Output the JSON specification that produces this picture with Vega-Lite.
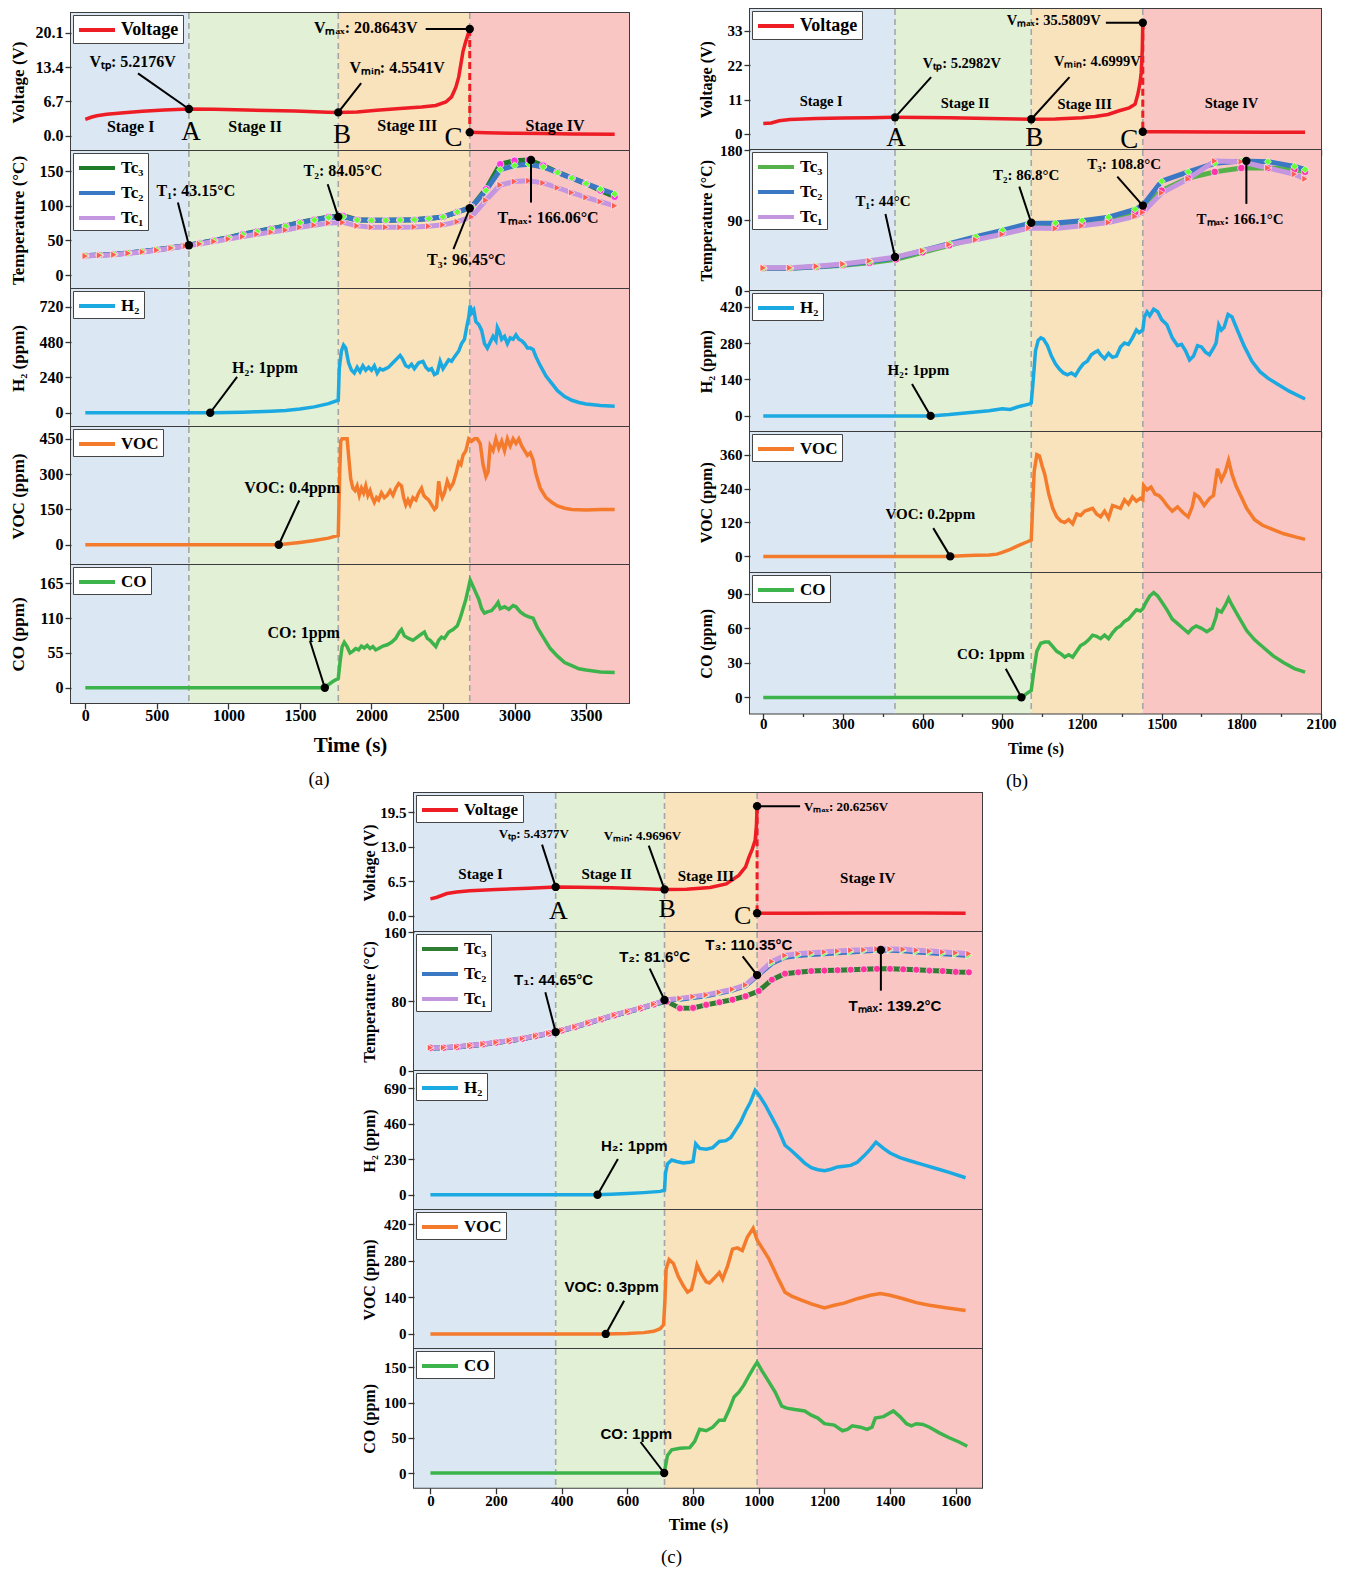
{
"$schema": "https://vega.github.io/schema/vega-lite/v6.json",
"background": "white",
"padding": {"left": 7, "top": 7, "right": 5, "bottom": 5},
"config": {
 "view": {"stroke": "#3c3c3c", "strokeWidth": 2},
 "axis": {"domain": false, "grid": false, "labelOverlap": false, "labelFlush": false, "tickColor": "#333333", "tickWidth": 1.3, "labelColor": "black", "titleColor": "black", "labelFont": "Liberation Serif", "titleFont": "Liberation Serif", "labelFontWeight": "bold", "titleFontWeight": "bold", "labelPadding": 2},
 "axisY": {"labelOverlap": false},
 "axisX": {"labelOverlap": false},
 "legend": {"labelFont": "Liberation Serif", "labelFontWeight": "bold", "labelColor": "black", "orient": "top-left", "offset": 2, "fillColor": "white", "strokeColor": "#444444", "padding": 4, "symbolStrokeWidth": 4, "labelFontSize": 17, "symbolSize": 324, "symbolType": "M-1,0H3", "labelOffset": 22, "rowPadding": 6},
 "title": {"font": "Liberation Serif", "fontWeight": "normal", "color": "black", "fontSize": 19, "orient": "bottom", "anchor": "middle", "offset": 14}
},
"datasets": {
 "stA": [{"s":"I","t0":-100,"t1":724},{"s":"II","t0":724,"t1":1768},{"s":"III","t0":1768,"t1":2687},{"s":"IV","t0":2687,"t1":3800}],
 "stB": [{"s":"I","t0":-50,"t1":496},{"s":"II","t0":496,"t1":1009},{"s":"III","t0":1009,"t1":1429},{"s":"IV","t0":1429,"t1":2100}],
 "stC": [{"s":"I","t0":-50,"t1":381.5},{"s":"II","t0":381.5,"t1":713},{"s":"III","t0":713,"t1":995},{"s":"IV","t0":995,"t1":1680}],
 "bdA": [{"t":724},{"t":1768},{"t":2687}],
 "bdB": [{"t":496},{"t":1009},{"t":1429}],
 "bdC": [{"t":381.5},{"t":713},{"t":995}],
 "vA": [{"t":0,"v":3.2,"g":1},{"t":40,"v":3.6,"g":1},{"t":80,"v":3.9,"g":1},{"t":150,"v":4.2,"g":1},{"t":270,"v":4.5,"g":1},{"t":400,"v":4.8,"g":1},{"t":550,"v":5.0,"g":1},{"t":724,"v":5.22,"g":1},{"t":900,"v":5.15,"g":1},{"t":1124,"v":5.0,"g":1},{"t":1466,"v":4.85,"g":1},{"t":1694,"v":4.6,"g":1},{"t":1768,"v":4.55,"g":1},{"t":1900,"v":4.65,"g":1},{"t":2036,"v":4.95,"g":1},{"t":2200,"v":5.3,"g":1},{"t":2350,"v":5.6,"g":1},{"t":2450,"v":5.9,"g":1},{"t":2520,"v":6.6,"g":1},{"t":2560,"v":7.6,"g":1},{"t":2590,"v":9.5,"g":1},{"t":2610,"v":11.5,"g":1},{"t":2625,"v":14,"g":1},{"t":2640,"v":16.5,"g":1},{"t":2660,"v":18.5,"g":1},{"t":2687,"v":20.86,"g":1},{"t":2687,"v":0.65,"g":2},{"t":2800,"v":0.55,"g":2},{"t":3000,"v":0.45,"g":2},{"t":3200,"v":0.4,"g":2},{"t":3400,"v":0.35,"g":2},{"t":3700,"v":0.3,"g":2}],
 "vB": [{"t":0,"v":3.3,"g":1},{"t":30,"v":3.5,"g":1},{"t":60,"v":4.2,"g":1},{"t":100,"v":4.6,"g":1},{"t":200,"v":4.9,"g":1},{"t":300,"v":5.05,"g":1},{"t":400,"v":5.2,"g":1},{"t":496,"v":5.3,"g":1},{"t":600,"v":5.25,"g":1},{"t":700,"v":5.15,"g":1},{"t":800,"v":5.0,"g":1},{"t":900,"v":4.85,"g":1},{"t":1009,"v":4.7,"g":1},{"t":1100,"v":4.8,"g":1},{"t":1200,"v":5.2,"g":1},{"t":1250,"v":5.6,"g":1},{"t":1298,"v":6.2,"g":1},{"t":1340,"v":7.4,"g":1},{"t":1378,"v":8.35,"g":1},{"t":1400,"v":9.5,"g":1},{"t":1410,"v":12.6,"g":1},{"t":1418,"v":16,"g":1},{"t":1423,"v":19.6,"g":1},{"t":1427,"v":27,"g":1},{"t":1429,"v":35.58,"g":1},{"t":1429,"v":0.7,"g":2},{"t":1500,"v":0.65,"g":2},{"t":1700,"v":0.6,"g":2},{"t":1900,"v":0.55,"g":2},{"t":2040,"v":0.55,"g":2}],
 "vC": [{"t":0,"v":3.2,"g":1},{"t":20,"v":3.5,"g":1},{"t":50,"v":4.2,"g":1},{"t":80,"v":4.5,"g":1},{"t":120,"v":4.7,"g":1},{"t":200,"v":4.95,"g":1},{"t":300,"v":5.2,"g":1},{"t":381.5,"v":5.44,"g":1},{"t":450,"v":5.4,"g":1},{"t":550,"v":5.3,"g":1},{"t":650,"v":5.1,"g":1},{"t":713,"v":4.97,"g":1},{"t":780,"v":5.0,"g":1},{"t":852,"v":5.35,"g":1},{"t":901,"v":6.0,"g":1},{"t":939,"v":7.6,"g":1},{"t":960,"v":9.2,"g":1},{"t":970,"v":11,"g":1},{"t":980,"v":12.5,"g":1},{"t":989,"v":14.2,"g":1},{"t":993,"v":17,"g":1},{"t":995,"v":20.63,"g":1},{"t":995,"v":0.5,"g":2},{"t":1100,"v":0.5,"g":2},{"t":1300,"v":0.55,"g":2},{"t":1500,"v":0.55,"g":2},{"t":1630,"v":0.5,"g":2}],
 "tA": [{"t":0,"Tc₃":28,"Tc₂":28,"Tc₁":27.5},{"t":100,"Tc₃":29,"Tc₂":29,"Tc₁":28.5},{"t":200,"Tc₃":30,"Tc₂":30,"Tc₁":29.5},{"t":300,"Tc₃":32,"Tc₂":32,"Tc₁":31.5},{"t":400,"Tc₃":34,"Tc₂":34,"Tc₁":33.5},{"t":500,"Tc₃":36.5,"Tc₂":36.5,"Tc₁":36},{"t":600,"Tc₃":39.5,"Tc₂":39.5,"Tc₁":39},{"t":700,"Tc₃":42.5,"Tc₂":42.5,"Tc₁":42},{"t":800,"Tc₃":46,"Tc₂":46,"Tc₁":45},{"t":900,"Tc₃":50,"Tc₂":50,"Tc₁":48.5},{"t":1000,"Tc₃":54,"Tc₂":54,"Tc₁":52},{"t":1100,"Tc₃":59,"Tc₂":58.5,"Tc₁":55.5},{"t":1200,"Tc₃":63,"Tc₂":62.5,"Tc₁":59},{"t":1300,"Tc₃":67,"Tc₂":66.5,"Tc₁":62},{"t":1400,"Tc₃":71,"Tc₂":70.5,"Tc₁":65},{"t":1500,"Tc₃":76,"Tc₂":75.5,"Tc₁":69},{"t":1600,"Tc₃":80,"Tc₂":79.5,"Tc₁":72},{"t":1700,"Tc₃":84,"Tc₂":83,"Tc₁":75},{"t":1800,"Tc₃":85.5,"Tc₂":84,"Tc₁":76},{"t":1900,"Tc₃":80,"Tc₂":79.5,"Tc₁":71},{"t":2000,"Tc₃":79,"Tc₂":79,"Tc₁":69},{"t":2100,"Tc₃":79,"Tc₂":79,"Tc₁":69},{"t":2200,"Tc₃":79.5,"Tc₂":79.5,"Tc₁":69},{"t":2300,"Tc₃":80,"Tc₂":80,"Tc₁":69.5},{"t":2400,"Tc₃":81.5,"Tc₂":81.5,"Tc₁":70.5},{"t":2500,"Tc₃":84,"Tc₂":84,"Tc₁":72.5},{"t":2600,"Tc₃":91,"Tc₂":91,"Tc₁":77},{"t":2700,"Tc₃":98,"Tc₂":98,"Tc₁":84},{"t":2800,"Tc₃":124,"Tc₂":122,"Tc₁":108},{"t":2900,"Tc₃":160,"Tc₂":152,"Tc₁":130},{"t":3000,"Tc₃":165,"Tc₂":158,"Tc₁":135},{"t":3100,"Tc₃":166,"Tc₂":160,"Tc₁":136},{"t":3200,"Tc₃":158,"Tc₂":156,"Tc₁":133},{"t":3300,"Tc₃":148.5,"Tc₂":148,"Tc₁":126},{"t":3400,"Tc₃":140,"Tc₂":140,"Tc₁":119},{"t":3500,"Tc₃":132,"Tc₂":132,"Tc₁":112},{"t":3600,"Tc₃":122,"Tc₂":124,"Tc₁":106},{"t":3700,"Tc₃":113,"Tc₂":117,"Tc₁":100}],
 "tB": [{"t":0,"Tc₃":28.5,"Tc₂":28.5,"Tc₁":29},{"t":100,"Tc₃":28.5,"Tc₂":28.5,"Tc₁":29},{"t":200,"Tc₃":30,"Tc₂":30.5,"Tc₁":31},{"t":300,"Tc₃":32.5,"Tc₂":33,"Tc₁":34},{"t":400,"Tc₃":35.5,"Tc₂":37,"Tc₁":38},{"t":500,"Tc₃":40,"Tc₂":42,"Tc₁":43},{"t":600,"Tc₃":49,"Tc₂":51,"Tc₁":51},{"t":700,"Tc₃":58,"Tc₂":60,"Tc₁":59},{"t":800,"Tc₃":67,"Tc₂":69,"Tc₁":65},{"t":900,"Tc₃":75,"Tc₂":77,"Tc₁":72},{"t":1000,"Tc₃":84,"Tc₂":86,"Tc₁":80},{"t":1100,"Tc₃":84,"Tc₂":86.5,"Tc₁":79.5},{"t":1200,"Tc₃":87,"Tc₂":89.5,"Tc₁":83},{"t":1300,"Tc₃":91,"Tc₂":94,"Tc₁":87},{"t":1400,"Tc₃":100,"Tc₂":104,"Tc₁":95},{"t":1429,"Tc₃":104,"Tc₂":108.8,"Tc₁":100},{"t":1500,"Tc₃":128,"Tc₂":140,"Tc₁":125},{"t":1600,"Tc₃":144,"Tc₂":152,"Tc₁":143},{"t":1700,"Tc₃":152,"Tc₂":163,"Tc₁":166},{"t":1800,"Tc₃":157,"Tc₂":166,"Tc₁":165},{"t":1900,"Tc₃":157,"Tc₂":165,"Tc₁":157},{"t":2000,"Tc₃":155,"Tc₂":159,"Tc₁":149},{"t":2040,"Tc₃":152,"Tc₂":155,"Tc₁":143}],
 "tC": [{"t":0,"Tc₃":26.4,"Tc₂":26.4,"Tc₁":26.6},{"t":40,"Tc₃":26.6,"Tc₂":26.6,"Tc₁":26.8},{"t":80,"Tc₃":27.5,"Tc₂":27.5,"Tc₁":27.7},{"t":120,"Tc₃":29,"Tc₂":29,"Tc₁":29.2},{"t":160,"Tc₃":30.5,"Tc₂":30.5,"Tc₁":30.8},{"t":200,"Tc₃":32.5,"Tc₂":32.5,"Tc₁":32.8},{"t":240,"Tc₃":34.5,"Tc₂":34.5,"Tc₁":34.8},{"t":280,"Tc₃":37,"Tc₂":37,"Tc₁":37.3},{"t":320,"Tc₃":40,"Tc₂":40,"Tc₁":40.3},{"t":360,"Tc₃":43,"Tc₂":43,"Tc₁":43.3},{"t":400,"Tc₃":46.5,"Tc₂":46.5,"Tc₁":46.8},{"t":440,"Tc₃":50.5,"Tc₂":50.5,"Tc₁":50.8},{"t":480,"Tc₃":55,"Tc₂":55,"Tc₁":55.3},{"t":520,"Tc₃":59.5,"Tc₂":59.5,"Tc₁":59.8},{"t":560,"Tc₃":64,"Tc₂":64,"Tc₁":64.3},{"t":600,"Tc₃":68,"Tc₂":68,"Tc₁":68.3},{"t":640,"Tc₃":72,"Tc₂":72,"Tc₁":72.3},{"t":680,"Tc₃":76.5,"Tc₂":76.5,"Tc₁":76.8},{"t":720,"Tc₃":80,"Tc₂":81.5,"Tc₁":82},{"t":760,"Tc₃":72,"Tc₂":82.5,"Tc₁":83.5},{"t":800,"Tc₃":72.5,"Tc₂":84.5,"Tc₁":85.5},{"t":840,"Tc₃":76,"Tc₂":86.5,"Tc₁":87.5},{"t":880,"Tc₃":79,"Tc₂":89.5,"Tc₁":90.5},{"t":920,"Tc₃":82,"Tc₂":93,"Tc₁":94},{"t":960,"Tc₃":86,"Tc₂":98,"Tc₁":99},{"t":1000,"Tc₃":92,"Tc₂":111,"Tc₁":112},{"t":1040,"Tc₃":105,"Tc₂":124,"Tc₁":126},{"t":1080,"Tc₃":112,"Tc₂":131,"Tc₁":133},{"t":1120,"Tc₃":113.5,"Tc₂":133,"Tc₁":135},{"t":1160,"Tc₃":115,"Tc₂":134,"Tc₁":136},{"t":1200,"Tc₃":115.5,"Tc₂":135,"Tc₁":137},{"t":1240,"Tc₃":116,"Tc₂":136,"Tc₁":138},{"t":1280,"Tc₃":116.5,"Tc₂":137,"Tc₁":139},{"t":1320,"Tc₃":117,"Tc₂":138,"Tc₁":139.5},{"t":1360,"Tc₃":117.5,"Tc₂":139,"Tc₁":140.5},{"t":1400,"Tc₃":117.5,"Tc₂":139,"Tc₁":140.5},{"t":1440,"Tc₃":117,"Tc₂":138.5,"Tc₁":140},{"t":1480,"Tc₃":116.5,"Tc₂":137,"Tc₁":139},{"t":1520,"Tc₃":115.5,"Tc₂":136,"Tc₁":138},{"t":1560,"Tc₃":115,"Tc₂":135,"Tc₁":137},{"t":1600,"Tc₃":114,"Tc₂":134,"Tc₁":136},{"t":1640,"Tc₃":113.5,"Tc₂":133,"Tc₁":135}],
 "hA": [{"t":0,"v":0},{"t":300,"v":0},{"t":600,"v":0},{"t":900,"v":0},{"t":1000,"v":2},{"t":1100,"v":4},{"t":1200,"v":7},{"t":1300,"v":11},{"t":1400,"v":16},{"t":1500,"v":25},{"t":1600,"v":40},{"t":1700,"v":62},{"t":1768,"v":85},{"t":1775,"v":300},{"t":1790,"v":420},{"t":1805,"v":460},{"t":1820,"v":440},{"t":1840,"v":340},{"t":1860,"v":290},{"t":1880,"v":270},{"t":1900,"v":310},{"t":1920,"v":280},{"t":1940,"v":320},{"t":1960,"v":290},{"t":1980,"v":310},{"t":2000,"v":290},{"t":2020,"v":320},{"t":2040,"v":270},{"t":2060,"v":300},{"t":2080,"v":290},{"t":2100,"v":300},{"t":2120,"v":310},{"t":2150,"v":340},{"t":2180,"v":370},{"t":2200,"v":390},{"t":2215,"v":370},{"t":2240,"v":320},{"t":2260,"v":310},{"t":2280,"v":330},{"t":2300,"v":300},{"t":2330,"v":340},{"t":2360,"v":350},{"t":2380,"v":310},{"t":2400,"v":290},{"t":2420,"v":300},{"t":2440,"v":260},{"t":2460,"v":270},{"t":2480,"v":350},{"t":2500,"v":300},{"t":2520,"v":330},{"t":2540,"v":360},{"t":2560,"v":350},{"t":2580,"v":380},{"t":2610,"v":420},{"t":2630,"v":470},{"t":2650,"v":500},{"t":2665,"v":580},{"t":2680,"v":650},{"t":2690,"v":730},{"t":2700,"v":680},{"t":2715,"v":700},{"t":2730,"v":620},{"t":2750,"v":600},{"t":2770,"v":560},{"t":2790,"v":470},{"t":2810,"v":440},{"t":2830,"v":480},{"t":2850,"v":520},{"t":2870,"v":490},{"t":2880,"v":580},{"t":2895,"v":550},{"t":2910,"v":500},{"t":2930,"v":520},{"t":2950,"v":470},{"t":2970,"v":510},{"t":2990,"v":500},{"t":3010,"v":530},{"t":3030,"v":500},{"t":3050,"v":490},{"t":3070,"v":470},{"t":3090,"v":440},{"t":3110,"v":440},{"t":3130,"v":430},{"t":3150,"v":380},{"t":3180,"v":320},{"t":3220,"v":250},{"t":3260,"v":200},{"t":3300,"v":150},{"t":3350,"v":110},{"t":3400,"v":85},{"t":3450,"v":70},{"t":3500,"v":60},{"t":3600,"v":50},{"t":3700,"v":45}],
 "oA": [{"t":0,"v":0},{"t":600,"v":0},{"t":1000,"v":0},{"t":1350,"v":0},{"t":1400,"v":3},{"t":1500,"v":10},{"t":1600,"v":18},{"t":1700,"v":28},{"t":1768,"v":40},{"t":1772,"v":150},{"t":1778,"v":300},{"t":1785,"v":440},{"t":1795,"v":450},{"t":1830,"v":450},{"t":1840,"v":380},{"t":1855,"v":280},{"t":1870,"v":240},{"t":1885,"v":230},{"t":1900,"v":250},{"t":1915,"v":210},{"t":1930,"v":240},{"t":1945,"v":220},{"t":1960,"v":250},{"t":1975,"v":210},{"t":1990,"v":230},{"t":2005,"v":200},{"t":2020,"v":180},{"t":2035,"v":200},{"t":2050,"v":190},{"t":2070,"v":220},{"t":2090,"v":200},{"t":2110,"v":210},{"t":2130,"v":230},{"t":2150,"v":210},{"t":2170,"v":240},{"t":2190,"v":260},{"t":2210,"v":250},{"t":2225,"v":200},{"t":2240,"v":170},{"t":2255,"v":190},{"t":2270,"v":170},{"t":2290,"v":200},{"t":2310,"v":190},{"t":2330,"v":220},{"t":2350,"v":240},{"t":2365,"v":210},{"t":2380,"v":200},{"t":2400,"v":190},{"t":2420,"v":170},{"t":2440,"v":150},{"t":2455,"v":160},{"t":2470,"v":270},{"t":2480,"v":230},{"t":2495,"v":200},{"t":2510,"v":220},{"t":2530,"v":270},{"t":2550,"v":240},{"t":2570,"v":260},{"t":2590,"v":300},{"t":2610,"v":350},{"t":2625,"v":340},{"t":2640,"v":380},{"t":2660,"v":400},{"t":2680,"v":450},{"t":2700,"v":440},{"t":2720,"v":450},{"t":2740,"v":450},{"t":2760,"v":430},{"t":2780,"v":340},{"t":2800,"v":290},{"t":2815,"v":310},{"t":2830,"v":420},{"t":2850,"v":400},{"t":2870,"v":450},{"t":2890,"v":410},{"t":2910,"v":440},{"t":2930,"v":400},{"t":2950,"v":450},{"t":2970,"v":420},{"t":2990,"v":450},{"t":3010,"v":430},{"t":3030,"v":450},{"t":3050,"v":420},{"t":3070,"v":400},{"t":3090,"v":380},{"t":3110,"v":390},{"t":3130,"v":360},{"t":3150,"v":300},{"t":3180,"v":240},{"t":3220,"v":200},{"t":3260,"v":180},{"t":3300,"v":165},{"t":3350,"v":155},{"t":3400,"v":150},{"t":3500,"v":148},{"t":3600,"v":150},{"t":3700,"v":150}],
 "cA": [{"t":0,"v":0},{"t":800,"v":0},{"t":1600,"v":0},{"t":1680,"v":0},{"t":1700,"v":5},{"t":1730,"v":10},{"t":1768,"v":15},{"t":1780,"v":40},{"t":1795,"v":65},{"t":1810,"v":72},{"t":1830,"v":65},{"t":1850,"v":55},{"t":1870,"v":58},{"t":1890,"v":62},{"t":1910,"v":60},{"t":1930,"v":66},{"t":1950,"v":63},{"t":1970,"v":67},{"t":1990,"v":62},{"t":2010,"v":65},{"t":2030,"v":60},{"t":2050,"v":62},{"t":2080,"v":66},{"t":2110,"v":68},{"t":2140,"v":72},{"t":2170,"v":78},{"t":2195,"v":88},{"t":2210,"v":92},{"t":2230,"v":82},{"t":2260,"v":78},{"t":2290,"v":75},{"t":2320,"v":80},{"t":2350,"v":85},{"t":2370,"v":88},{"t":2390,"v":78},{"t":2410,"v":75},{"t":2430,"v":70},{"t":2450,"v":65},{"t":2470,"v":75},{"t":2490,"v":80},{"t":2510,"v":78},{"t":2540,"v":88},{"t":2570,"v":92},{"t":2600,"v":98},{"t":2620,"v":110},{"t":2640,"v":125},{"t":2660,"v":140},{"t":2680,"v":160},{"t":2690,"v":170},{"t":2710,"v":160},{"t":2730,"v":150},{"t":2750,"v":140},{"t":2770,"v":125},{"t":2790,"v":118},{"t":2810,"v":120},{"t":2840,"v":122},{"t":2870,"v":130},{"t":2885,"v":135},{"t":2900,"v":125},{"t":2930,"v":128},{"t":2960,"v":124},{"t":2990,"v":130},{"t":3010,"v":128},{"t":3040,"v":120},{"t":3070,"v":115},{"t":3100,"v":112},{"t":3130,"v":110},{"t":3160,"v":95},{"t":3200,"v":80},{"t":3250,"v":62},{"t":3300,"v":50},{"t":3350,"v":40},{"t":3400,"v":35},{"t":3450,"v":30},{"t":3500,"v":28},{"t":3600,"v":25},{"t":3700,"v":24}],
 "hB": [{"t":0,"v":0},{"t":300,"v":0},{"t":630,"v":0},{"t":700,"v":5},{"t":750,"v":10},{"t":800,"v":15},{"t":850,"v":20},{"t":900,"v":27},{"t":930,"v":25},{"t":960,"v":35},{"t":1000,"v":45},{"t":1009,"v":50},{"t":1015,"v":120},{"t":1025,"v":250},{"t":1035,"v":290},{"t":1045,"v":300},{"t":1055,"v":295},{"t":1070,"v":270},{"t":1085,"v":230},{"t":1100,"v":200},{"t":1115,"v":180},{"t":1130,"v":165},{"t":1145,"v":158},{"t":1160,"v":165},{"t":1175,"v":155},{"t":1190,"v":180},{"t":1205,"v":200},{"t":1220,"v":210},{"t":1235,"v":235},{"t":1250,"v":245},{"t":1260,"v":250},{"t":1270,"v":235},{"t":1285,"v":220},{"t":1300,"v":240},{"t":1315,"v":225},{"t":1330,"v":230},{"t":1345,"v":265},{"t":1360,"v":280},{"t":1375,"v":275},{"t":1390,"v":300},{"t":1405,"v":330},{"t":1415,"v":320},{"t":1429,"v":330},{"t":1435,"v":380},{"t":1445,"v":400},{"t":1455,"v":385},{"t":1470,"v":410},{"t":1485,"v":400},{"t":1500,"v":370},{"t":1520,"v":350},{"t":1540,"v":300},{"t":1560,"v":270},{"t":1575,"v":275},{"t":1590,"v":250},{"t":1605,"v":215},{"t":1620,"v":230},{"t":1635,"v":270},{"t":1650,"v":265},{"t":1665,"v":245},{"t":1680,"v":235},{"t":1695,"v":260},{"t":1705,"v":280},{"t":1715,"v":350},{"t":1725,"v":330},{"t":1735,"v":340},{"t":1750,"v":390},{"t":1765,"v":380},{"t":1785,"v":330},{"t":1810,"v":270},{"t":1840,"v":210},{"t":1870,"v":170},{"t":1900,"v":145},{"t":1940,"v":120},{"t":1980,"v":95},{"t":2040,"v":65}],
 "oB": [{"t":0,"v":0},{"t":700,"v":0},{"t":750,"v":2},{"t":800,"v":4},{"t":850,"v":5},{"t":880,"v":8},{"t":900,"v":14},{"t":930,"v":25},{"t":960,"v":38},{"t":990,"v":50},{"t":1009,"v":58},{"t":1013,"v":150},{"t":1020,"v":300},{"t":1030,"v":360},{"t":1040,"v":355},{"t":1050,"v":320},{"t":1060,"v":290},{"t":1075,"v":220},{"t":1090,"v":170},{"t":1105,"v":140},{"t":1120,"v":125},{"t":1135,"v":120},{"t":1150,"v":130},{"t":1165,"v":115},{"t":1180,"v":150},{"t":1195,"v":145},{"t":1210,"v":160},{"t":1225,"v":165},{"t":1240,"v":170},{"t":1255,"v":150},{"t":1270,"v":140},{"t":1285,"v":160},{"t":1300,"v":135},{"t":1315,"v":180},{"t":1330,"v":175},{"t":1345,"v":170},{"t":1360,"v":200},{"t":1375,"v":185},{"t":1390,"v":210},{"t":1405,"v":195},{"t":1420,"v":205},{"t":1429,"v":200},{"t":1432,"v":250},{"t":1445,"v":235},{"t":1460,"v":245},{"t":1475,"v":220},{"t":1490,"v":215},{"t":1505,"v":200},{"t":1520,"v":180},{"t":1540,"v":160},{"t":1560,"v":175},{"t":1580,"v":155},{"t":1600,"v":140},{"t":1615,"v":175},{"t":1625,"v":220},{"t":1640,"v":210},{"t":1660,"v":180},{"t":1680,"v":205},{"t":1695,"v":215},{"t":1710,"v":310},{"t":1725,"v":270},{"t":1740,"v":300},{"t":1752,"v":340},{"t":1765,"v":290},{"t":1780,"v":250},{"t":1800,"v":210},{"t":1820,"v":170},{"t":1850,"v":130},{"t":1880,"v":110},{"t":1920,"v":95},{"t":1960,"v":80},{"t":2000,"v":70},{"t":2040,"v":60}],
 "cB": [{"t":0,"v":0},{"t":500,"v":0},{"t":975,"v":0},{"t":990,"v":3},{"t":1009,"v":6},{"t":1020,"v":25},{"t":1030,"v":40},{"t":1045,"v":47},{"t":1060,"v":48},{"t":1075,"v":48},{"t":1090,"v":44},{"t":1105,"v":40},{"t":1120,"v":38},{"t":1135,"v":35},{"t":1150,"v":37},{"t":1165,"v":35},{"t":1180,"v":40},{"t":1195,"v":45},{"t":1210,"v":47},{"t":1225,"v":50},{"t":1240,"v":54},{"t":1255,"v":53},{"t":1270,"v":51},{"t":1285,"v":54},{"t":1300,"v":51},{"t":1315,"v":56},{"t":1330,"v":60},{"t":1345,"v":62},{"t":1360,"v":66},{"t":1375,"v":68},{"t":1390,"v":72},{"t":1405,"v":76},{"t":1420,"v":75},{"t":1429,"v":77},{"t":1440,"v":82},{"t":1455,"v":88},{"t":1470,"v":91},{"t":1485,"v":88},{"t":1500,"v":83},{"t":1520,"v":76},{"t":1540,"v":68},{"t":1560,"v":64},{"t":1580,"v":60},{"t":1600,"v":56},{"t":1615,"v":60},{"t":1630,"v":62},{"t":1650,"v":60},{"t":1670,"v":57},{"t":1690,"v":60},{"t":1705,"v":70},{"t":1710,"v":76},{"t":1725,"v":74},{"t":1740,"v":80},{"t":1752,"v":86},{"t":1765,"v":80},{"t":1790,"v":70},{"t":1820,"v":58},{"t":1850,"v":50},{"t":1880,"v":44},{"t":1920,"v":36},{"t":1960,"v":30},{"t":2000,"v":25},{"t":2040,"v":22}],
 "hC": [{"t":0,"v":0},{"t":200,"v":0},{"t":381,"v":0},{"t":500,"v":0},{"t":550,"v":3},{"t":600,"v":8},{"t":650,"v":14},{"t":700,"v":22},{"t":713,"v":30},{"t":716,"v":140},{"t":722,"v":200},{"t":735,"v":225},{"t":750,"v":215},{"t":770,"v":205},{"t":790,"v":210},{"t":800,"v":215},{"t":808,"v":330},{"t":820,"v":300},{"t":840,"v":295},{"t":860,"v":305},{"t":880,"v":345},{"t":900,"v":350},{"t":915,"v":370},{"t":930,"v":420},{"t":945,"v":470},{"t":960,"v":540},{"t":975,"v":600},{"t":989,"v":675},{"t":995,"v":660},{"t":1005,"v":630},{"t":1020,"v":580},{"t":1040,"v":500},{"t":1060,"v":420},{"t":1080,"v":320},{"t":1100,"v":285},{"t":1120,"v":245},{"t":1140,"v":205},{"t":1160,"v":175},{"t":1180,"v":162},{"t":1201,"v":156},{"t":1220,"v":165},{"t":1240,"v":180},{"t":1260,"v":185},{"t":1280,"v":190},{"t":1300,"v":210},{"t":1320,"v":250},{"t":1340,"v":295},{"t":1357,"v":340},{"t":1380,"v":300},{"t":1400,"v":270},{"t":1430,"v":240},{"t":1460,"v":220},{"t":1500,"v":195},{"t":1540,"v":170},{"t":1580,"v":145},{"t":1630,"v":110}],
 "oC": [{"t":0,"v":0},{"t":400,"v":0},{"t":534,"v":0},{"t":600,"v":2},{"t":650,"v":5},{"t":680,"v":10},{"t":700,"v":20},{"t":710,"v":35},{"t":714,"v":120},{"t":718,"v":250},{"t":727,"v":285},{"t":740,"v":270},{"t":755,"v":220},{"t":770,"v":185},{"t":783,"v":160},{"t":795,"v":170},{"t":805,"v":220},{"t":812,"v":265},{"t":825,"v":230},{"t":840,"v":200},{"t":850,"v":195},{"t":865,"v":215},{"t":880,"v":235},{"t":890,"v":210},{"t":905,"v":260},{"t":920,"v":325},{"t":935,"v":330},{"t":950,"v":320},{"t":965,"v":370},{"t":983,"v":405},{"t":995,"v":360},{"t":1010,"v":330},{"t":1030,"v":290},{"t":1045,"v":250},{"t":1060,"v":210},{"t":1080,"v":160},{"t":1100,"v":145},{"t":1130,"v":130},{"t":1160,"v":115},{"t":1200,"v":100},{"t":1230,"v":110},{"t":1260,"v":118},{"t":1300,"v":135},{"t":1340,"v":148},{"t":1370,"v":155},{"t":1400,"v":148},{"t":1440,"v":135},{"t":1480,"v":120},{"t":1520,"v":110},{"t":1570,"v":100},{"t":1630,"v":90}],
 "cC": [{"t":0,"v":0},{"t":300,"v":0},{"t":600,"v":0},{"t":712,"v":0},{"t":716,"v":10},{"t":722,"v":25},{"t":735,"v":33},{"t":760,"v":35},{"t":790,"v":36},{"t":805,"v":45},{"t":820,"v":62},{"t":840,"v":60},{"t":860,"v":65},{"t":880,"v":75},{"t":895,"v":75},{"t":910,"v":90},{"t":925,"v":108},{"t":940,"v":115},{"t":955,"v":125},{"t":970,"v":138},{"t":985,"v":150},{"t":995,"v":157},{"t":1010,"v":145},{"t":1030,"v":130},{"t":1050,"v":115},{"t":1070,"v":95},{"t":1085,"v":92},{"t":1110,"v":90},{"t":1140,"v":88},{"t":1160,"v":82},{"t":1180,"v":78},{"t":1200,"v":70},{"t":1230,"v":68},{"t":1255,"v":60},{"t":1270,"v":62},{"t":1285,"v":67},{"t":1310,"v":65},{"t":1330,"v":62},{"t":1345,"v":65},{"t":1355,"v":78},{"t":1380,"v":80},{"t":1410,"v":88},{"t":1430,"v":80},{"t":1450,"v":70},{"t":1465,"v":67},{"t":1480,"v":70},{"t":1500,"v":69},{"t":1520,"v":65},{"t":1550,"v":57},{"t":1580,"v":50},{"t":1610,"v":44},{"t":1635,"v":38}],
 "ann": [
  {"p":"aV","k":"pt","x":724,"y":5.2176},{"p":"aV","k":"pt","x":1768,"y":4.5541},{"p":"aV","k":"pt","x":2687,"y":20.8643},{"p":"aV","k":"pt","x":2687,"y":0.65},
  {"p":"aV","k":"ar","x":724,"y":5.2176,"x2":368,"y2":12.2},{"p":"aV","k":"ar","x":1768,"y":4.5541,"x2":1928,"y2":10.3},{"p":"aV","k":"ar","x":2687,"y":20.8643,"x2":2379,"y2":20.8643},
  {"p":"aV","k":"lb","x":331,"y":14.5,"txt":"Vₜₚ: 5.2176V"},{"p":"aV","k":"lb","x":2179,"y":13.2,"txt":"Vₘᵢₙ: 4.5541V"},{"p":"aV","k":"lb","x":1960,"y":21.1,"txt":"Vₘₐₓ: 20.8643V"},
  {"p":"aV","k":"st","x":317,"y":1.6,"txt":"Stage I"},{"p":"aV","k":"st","x":1187,"y":1.6,"txt":"Stage II"},{"p":"aV","k":"st","x":2250,"y":1.8,"txt":"Stage III"},{"p":"aV","k":"st","x":3283,"y":1.95,"txt":"Stage IV"},
  {"p":"aV","k":"le","x":739,"y":0.7,"txt":"A"},{"p":"aV","k":"le","x":1794,"y":0.2,"txt":"B"},{"p":"aV","k":"le","x":2573,"y":-0.45,"txt":"C"},
  {"p":"aV","k":"dd","x":2687,"y":20.8643,"y2":0.65},
  {"p":"aT","k":"pt","x":724,"y":43.15},{"p":"aT","k":"pt","x":1768,"y":84.05},{"p":"aT","k":"pt","x":2687,"y":96.45},{"p":"aT","k":"pt","x":3115,"y":166.06},
  {"p":"aT","k":"ar","x":724,"y":43.15,"x2":647,"y2":104.7},{"p":"aT","k":"ar","x":1768,"y":84.05,"x2":1694,"y2":131},{"p":"aT","k":"ar","x":2687,"y":96.45,"x2":2573,"y2":37.5},{"p":"aT","k":"ar","x":3115,"y":166.06,"x2":3115,"y2":104.7},
  {"p":"aT","k":"lb","x":773,"y":121.7,"txt":"T₁: 43.15°C"},{"p":"aT","k":"lb","x":1800,"y":150,"txt":"T₂: 84.05°C"},{"p":"aT","k":"lb","x":2664,"y":21.9,"txt":"T₃: 96.45°C"},{"p":"aT","k":"lb","x":3234,"y":81.8,"txt":"Tₘₐₓ: 166.06°C"},
  {"p":"aH","k":"pt","x":873,"y":0},{"p":"aH","k":"ar","x":873,"y":0,"x2":1061,"y2":244},{"p":"aH","k":"lb","x":1255,"y":306,"txt":"H₂: 1ppm"},
  {"p":"aO","k":"pt","x":1352,"y":0},{"p":"aO","k":"ar","x":1352,"y":0,"x2":1495,"y2":188},{"p":"aO","k":"lb","x":1446,"y":239,"txt":"VOC: 0.4ppm"},
  {"p":"aC","k":"pt","x":1674,"y":0},{"p":"aC","k":"ar","x":1674,"y":0,"x2":1572,"y2":72.8},{"p":"aC","k":"lb","x":1526,"y":86.6,"txt":"CO: 1ppm"},
  {"p":"bV","k":"pt","x":496,"y":5.2982},{"p":"bV","k":"pt","x":1009,"y":4.6999},{"p":"bV","k":"pt","x":1429,"y":35.5809},{"p":"bV","k":"pt","x":1429,"y":0.7},
  {"p":"bV","k":"ar","x":496,"y":5.2982,"x2":632,"y2":18.2},{"p":"bV","k":"ar","x":1009,"y":4.6999,"x2":1153,"y2":18.2},{"p":"bV","k":"ar","x":1429,"y":35.5809,"x2":1290,"y2":35.5809},
  {"p":"bV","k":"lb","x":748,"y":22.5,"txt":"Vₜₚ: 5.2982V"},{"p":"bV","k":"lb","x":1258,"y":23.0,"txt":"Vₘᵢₙ: 4.6999V"},{"p":"bV","k":"lb","x":1094,"y":36.0,"txt":"Vₘₐₓ: 35.5809V"},
  {"p":"bV","k":"st","x":218,"y":10.2,"txt":"Stage I"},{"p":"bV","k":"st","x":760,"y":9.6,"txt":"Stage II"},{"p":"bV","k":"st","x":1210,"y":9.1,"txt":"Stage III"},{"p":"bV","k":"st","x":1763,"y":9.6,"txt":"Stage IV"},
  {"p":"bV","k":"le","x":500,"y":-1.3,"txt":"A"},{"p":"bV","k":"le","x":1020,"y":-1.3,"txt":"B"},{"p":"bV","k":"le","x":1378,"y":-1.8,"txt":"C"},
  {"p":"bV","k":"dd","x":1429,"y":35.5809,"y2":0.7},
  {"p":"bT","k":"pt","x":496,"y":43},{"p":"bT","k":"pt","x":1009,"y":86.8},{"p":"bT","k":"pt","x":1429,"y":108.8},{"p":"bT","k":"pt","x":1819,"y":166.1},
  {"p":"bT","k":"ar","x":496,"y":43,"x2":460,"y2":98},{"p":"bT","k":"ar","x":1009,"y":86.8,"x2":964,"y2":133},{"p":"bT","k":"ar","x":1429,"y":108.8,"x2":1333,"y2":146},{"p":"bT","k":"ar","x":1819,"y":166.1,"x2":1819,"y2":111},
  {"p":"bT","k":"lb","x":451,"y":115,"txt":"T₁: 44°C"},{"p":"bT","k":"lb","x":990,"y":148,"txt":"T₂: 86.8°C"},{"p":"bT","k":"lb","x":1359,"y":162,"txt":"T₃: 108.8°C"},{"p":"bT","k":"lb","x":1795,"y":91.7,"txt":"Tₘₐₓ: 166.1°C"},
  {"p":"bH","k":"pt","x":630,"y":0},{"p":"bH","k":"ar","x":630,"y":0,"x2":560,"y2":123},{"p":"bH","k":"lb","x":584,"y":177,"txt":"H₂: 1ppm"},
  {"p":"bO","k":"pt","x":704,"y":0},{"p":"bO","k":"ar","x":704,"y":0,"x2":640,"y2":100},{"p":"bO","k":"lb","x":629,"y":150,"txt":"VOC: 0.2ppm"},
  {"p":"bC","k":"pt","x":972,"y":0},{"p":"bC","k":"ar","x":972,"y":0,"x2":913,"y2":24.8},{"p":"bC","k":"lb","x":857,"y":37.8,"txt":"CO: 1ppm"},
  {"p":"cV","k":"pt","x":381.5,"y":5.4377},{"p":"cV","k":"pt","x":713,"y":4.9696},{"p":"cV","k":"pt","x":995,"y":20.6256},{"p":"cV","k":"pt","x":995,"y":0.5},
  {"p":"cV","k":"ar","x":381.5,"y":5.4377,"x2":340,"y2":13.4},{"p":"cV","k":"ar","x":713,"y":4.9696,"x2":665,"y2":13.2},{"p":"cV","k":"ar","x":995,"y":20.6256,"x2":1126,"y2":20.6256},
  {"p":"cV","k":"lb","x":315,"y":15.4,"txt":"Vₜₚ: 5.4377V"},{"p":"cV","k":"lb","x":646,"y":15.1,"txt":"Vₘᵢₙ: 4.9696V"},{"p":"cV","k":"lb","x":1266,"y":20.45,"txt":"Vₘₐₓ: 20.6256V"},
  {"p":"cV","k":"st","x":153,"y":7.9,"txt":"Stage I"},{"p":"cV","k":"st","x":537,"y":7.9,"txt":"Stage II"},{"p":"cV","k":"st","x":839,"y":7.55,"txt":"Stage III"},{"p":"cV","k":"st","x":1332,"y":7.1,"txt":"Stage IV"},
  {"p":"cV","k":"le","x":390,"y":0.9,"txt":"A"},{"p":"cV","k":"le","x":721,"y":1.3,"txt":"B"},{"p":"cV","k":"le","x":951,"y":0,"txt":"C"},
  {"p":"cV","k":"dd","x":995,"y":20.6256,"y2":0.5},
  {"p":"cT","k":"pt","x":381.5,"y":44.65},{"p":"cT","k":"pt","x":713,"y":81.6},{"p":"cT","k":"pt","x":995,"y":110.35},{"p":"cT","k":"pt","x":1372,"y":139.2},
  {"p":"cT","k":"ar","x":381.5,"y":44.65,"x2":350,"y2":90.5},{"p":"cT","k":"ar","x":713,"y":81.6,"x2":668,"y2":117.7},{"p":"cT","k":"ar","x":995,"y":110.35,"x2":951,"y2":132},{"p":"cT","k":"ar","x":1372,"y":139.2,"x2":1372,"y2":92.4},
  {"p":"cT","k":"lb","x":375,"y":105,"txt":"T₁: 44.65°C"},{"p":"cT","k":"lb","x":683,"y":131,"txt":"T₂: 81.6°C"},{"p":"cT","k":"lb","x":970,"y":145,"txt":"T₃: 110.35°C"},{"p":"cT","k":"lb","x":1415,"y":75,"txt":"Tₘₐₓ: 139.2°C"},
  {"p":"cH","k":"pt","x":509,"y":0},{"p":"cH","k":"ar","x":509,"y":0,"x2":571,"y2":231},{"p":"cH","k":"lb","x":621,"y":318,"txt":"H₂: 1ppm"},
  {"p":"cO","k":"pt","x":534,"y":0},{"p":"cO","k":"ar","x":534,"y":0,"x2":590,"y2":127},{"p":"cO","k":"lb","x":552,"y":178,"txt":"VOC: 0.3ppm"},
  {"p":"cC","k":"pt","x":712,"y":0},{"p":"cC","k":"ar","x":712,"y":0,"x2":640,"y2":44},{"p":"cC","k":"lb","x":627,"y":56,"txt":"CO: 1ppm"}
 ]
},
"spacing": 0,
"resolve": {"scale": {"x": "independent", "y": "independent", "color": "independent", "fill": "independent"}},
"vconcat": [
{"hconcat": [
 {"vconcat": [
  {"width": 558, "height": 4, "data": {"values": []}, "mark": "point", "view": {"stroke": null}},
  {"width": 558, "height": 138, "layer": [
   {"data": {"name": "stA"}, "mark": {"type": "rect"}, "encoding": {"x": {"field": "t0", "type": "quantitative", "scale": {"domain": [-100, 3800], "nice": false, "zero": false}, "axis": {"values": [0,250,500,750,1000,1250,1500,1750,2000,2250,2500,2750,3000,3250,3500,3750], "labels": false, "title": null, "tickSize": {"condition": {"test": "datum.value % 500 != 0", "value": 3}, "value": 6}, "zindex": 1}}, "x2": {"field": "t1"}, "fill": {"field": "s", "type": "nominal", "scale": {"domain": ["I","II","III","IV"], "range": ["#dbe8f3","#e2f0d6","#f9e3bd","#f9c6c4"]}, "legend": null}}},
   {"data": {"name": "bdA"}, "mark": {"type": "rule", "strokeDash": [6,4], "color": "#a6a6a6", "strokeWidth": 1.6}, "encoding": {"x": {"field": "t", "type": "quantitative"}}},
   {"data": {"name": "ann"}, "transform": [{"filter": "datum.p=='aV' && datum.k=='dd'"}], "mark": {"type": "rule", "color": "#ee1c25", "strokeWidth": 3, "strokeDash": [7,4]}, "encoding": {"x": {"field": "x", "type": "quantitative"}, "y": {"field": "y", "type": "quantitative"}, "y2": {"field": "y2"}}},
   {"data": {"name": "vA"}, "mark": {"type": "line", "strokeWidth": 3.5}, "encoding": {"x": {"field": "t", "type": "quantitative"}, "y": {"field": "v", "type": "quantitative", "scale": {"domain": [-3, 24], "nice": false, "zero": false}, "axis": {"title": "Voltage (V)", "titleX": -44, "titleFontSize": 17, "labelFontSize": 16, "labelOverlap": false, "values": [0,3.35,6.7,10.05,13.4,16.75,20.1,23.45], "labelExpr": "indexof([3.35,10.05,16.75,23.45], datum.value) >= 0 ? '' : format(datum.value, '.1f')", "tickSize": {"condition": {"test": "indexof([3.35,10.05,16.75,23.45], datum.value) >= 0", "value": 3}, "value": 6}, "zindex": 1}}, "detail": {"field": "g"}, "color": {"datum": "Voltage", "type": "nominal", "scale": {"range": ["#ee1c25"]}, "legend": {"title": null, "symbolType": "M-1,0H3", "labelFontSize": 18}}}},
   {"data": {"name": "ann"}, "transform": [{"filter": "datum.p=='aV' && datum.k=='ar'"}], "mark": {"type": "rule", "color": "black", "strokeWidth": 2}, "encoding": {"x": {"field": "x", "type": "quantitative"}, "y": {"field": "y", "type": "quantitative"}, "x2": {"field": "x2"}, "y2": {"field": "y2"}}},
   {"data": {"name": "ann"}, "transform": [{"filter": "datum.p=='aV' && datum.k=='pt'"}], "mark": {"type": "circle", "color": "black", "size": 70, "opacity": 1}, "encoding": {"x": {"field": "x", "type": "quantitative"}, "y": {"field": "y", "type": "quantitative"}}},
   {"data": {"name": "ann"}, "transform": [{"filter": "datum.p=='aV' && (datum.k=='lb' || datum.k=='st')"}], "mark": {"type": "text", "font": "Liberation Serif", "fontWeight": "bold", "fontSize": 16, "color": "black"}, "encoding": {"x": {"field": "x", "type": "quantitative"}, "y": {"field": "y", "type": "quantitative"}, "text": {"field": "txt"}}},
   {"data": {"name": "ann"}, "transform": [{"filter": "datum.p=='aV' && datum.k=='le'"}], "mark": {"type": "text", "font": "Liberation Serif", "fontWeight": "normal", "fontSize": 27, "color": "black"}, "encoding": {"x": {"field": "x", "type": "quantitative"}, "y": {"field": "y", "type": "quantitative"}, "text": {"field": "txt"}}}
  ]},
  {"width": 558, "height": 138, "layer": [
   {"data": {"name": "stA"}, "mark": {"type": "rect"}, "encoding": {"x": {"field": "t0", "type": "quantitative", "scale": {"domain": [-100, 3800], "nice": false, "zero": false}, "axis": {"values": [0,250,500,750,1000,1250,1500,1750,2000,2250,2500,2750,3000,3250,3500,3750], "labels": false, "title": null, "tickSize": {"condition": {"test": "datum.value % 500 != 0", "value": 3}, "value": 6}, "zindex": 1}}, "x2": {"field": "t1"}, "fill": {"field": "s", "type": "nominal", "scale": {"domain": ["I","II","III","IV"], "range": ["#dbe8f3","#e2f0d6","#f9e3bd","#f9c6c4"]}, "legend": null}}},
   {"data": {"name": "bdA"}, "mark": {"type": "rule", "strokeDash": [6,4], "color": "#a6a6a6", "strokeWidth": 1.6}, "encoding": {"x": {"field": "t", "type": "quantitative"}}},
   {"data": {"name": "tA"}, "transform": [{"fold": ["Tc₃","Tc₂","Tc₁"], "as": ["s","v"]}], "mark": {"type": "line", "strokeWidth": 5}, "encoding": {"x": {"field": "t", "type": "quantitative"}, "y": {"field": "v", "type": "quantitative", "scale": {"domain": [-20, 179], "nice": false, "zero": false}, "axis": {"title": "Temperature (°C)", "titleX": -44, "titleFontSize": 17, "labelFontSize": 16, "labelOverlap": false, "values": [0,25,50,75,100,125,150,175], "labelExpr": "indexof([25,75,125,175], datum.value) >= 0 ? '' : datum.label", "tickSize": {"condition": {"test": "indexof([25,75,125,175], datum.value) >= 0", "value": 3}, "value": 6}, "zindex": 1}}, "color": {"field": "s", "type": "nominal", "scale": {"domain": ["Tc₃","Tc₂","Tc₁"], "range": ["#1f7a2a","#3b78c3","#c596e0"]}, "legend": {"title": null, "symbolType": "M-1,0H3", "rowPadding": 6}}}},
   {"data": {"name": "tA"}, "transform": [{"fold": ["Tc₃"], "as": ["s2","v"]}], "mark": {"type": "point", "shape": "circle", "filled": true, "fill": "#ff33dd", "size": 55, "opacity": 1, "stroke": "white", "strokeWidth": 0.6}, "encoding": {"x": {"field": "t", "type": "quantitative"}, "y": {"field": "v", "type": "quantitative"}}},
   {"data": {"name": "tA"}, "transform": [{"fold": ["Tc₂"], "as": ["s2","v"]}], "mark": {"type": "point", "shape": "diamond", "filled": true, "fill": "#66ff33", "size": 55, "opacity": 1, "stroke": "white", "strokeWidth": 0.6}, "encoding": {"x": {"field": "t", "type": "quantitative"}, "y": {"field": "v", "type": "quantitative"}}},
   {"data": {"name": "tA"}, "transform": [{"fold": ["Tc₁"], "as": ["s2","v"]}], "mark": {"type": "point", "shape": "triangle-right", "filled": true, "fill": "#ff5c50", "size": 55, "opacity": 1, "stroke": "white", "strokeWidth": 0.6}, "encoding": {"x": {"field": "t", "type": "quantitative"}, "y": {"field": "v", "type": "quantitative"}}},
   {"data": {"name": "ann"}, "transform": [{"filter": "datum.p=='aT' && datum.k=='ar'"}], "mark": {"type": "rule", "color": "black", "strokeWidth": 2}, "encoding": {"x": {"field": "x", "type": "quantitative"}, "y": {"field": "y", "type": "quantitative"}, "x2": {"field": "x2"}, "y2": {"field": "y2"}}},
   {"data": {"name": "ann"}, "transform": [{"filter": "datum.p=='aT' && datum.k=='pt'"}], "mark": {"type": "circle", "color": "black", "size": 70, "opacity": 1}, "encoding": {"x": {"field": "x", "type": "quantitative"}, "y": {"field": "y", "type": "quantitative"}}},
   {"data": {"name": "ann"}, "transform": [{"filter": "datum.p=='aT' && datum.k=='lb'"}], "mark": {"type": "text", "font": "Liberation Serif", "fontWeight": "bold", "fontSize": 16, "color": "black"}, "encoding": {"x": {"field": "x", "type": "quantitative"}, "y": {"field": "y", "type": "quantitative"}, "text": {"field": "txt"}}}
  ]},
  {"width": 558, "height": 138, "layer": [
   {"data": {"name": "stA"}, "mark": {"type": "rect"}, "encoding": {"x": {"field": "t0", "type": "quantitative", "scale": {"domain": [-100, 3800], "nice": false, "zero": false}, "axis": {"values": [0,250,500,750,1000,1250,1500,1750,2000,2250,2500,2750,3000,3250,3500,3750], "labels": false, "title": null, "tickSize": {"condition": {"test": "datum.value % 500 != 0", "value": 3}, "value": 6}, "zindex": 1}}, "x2": {"field": "t1"}, "fill": {"field": "s", "type": "nominal", "scale": {"domain": ["I","II","III","IV"], "range": ["#dbe8f3","#e2f0d6","#f9e3bd","#f9c6c4"]}, "legend": null}}},
   {"data": {"name": "bdA"}, "mark": {"type": "rule", "strokeDash": [6,4], "color": "#a6a6a6", "strokeWidth": 1.6}, "encoding": {"x": {"field": "t", "type": "quantitative"}}},
   {"data": {"name": "hA"}, "mark": {"type": "line", "strokeWidth": 3.5}, "encoding": {"x": {"field": "t", "type": "quantitative"}, "y": {"field": "v", "type": "quantitative", "scale": {"domain": [-97, 842], "nice": false, "zero": false}, "axis": {"title": "H₂ (ppm)", "titleX": -44, "titleFontSize": 17, "labelFontSize": 16, "labelOverlap": false, "values": [0,120,240,360,480,600,720,840], "labelExpr": "indexof([120,360,600,840], datum.value) >= 0 ? '' : datum.label", "tickSize": {"condition": {"test": "indexof([120,360,600,840], datum.value) >= 0", "value": 3}, "value": 6}, "zindex": 1}}, "color": {"datum": "H₂", "type": "nominal", "scale": {"range": ["#1ba9e1"]}, "legend": {"title": null, "symbolType": "M-1,0H3"}}}},
   {"data": {"name": "ann"}, "transform": [{"filter": "datum.p=='aH' && datum.k=='ar'"}], "mark": {"type": "rule", "color": "black", "strokeWidth": 2}, "encoding": {"x": {"field": "x", "type": "quantitative"}, "y": {"field": "y", "type": "quantitative"}, "x2": {"field": "x2"}, "y2": {"field": "y2"}}},
   {"data": {"name": "ann"}, "transform": [{"filter": "datum.p=='aH' && datum.k=='pt'"}], "mark": {"type": "circle", "color": "black", "size": 70, "opacity": 1}, "encoding": {"x": {"field": "x", "type": "quantitative"}, "y": {"field": "y", "type": "quantitative"}}},
   {"data": {"name": "ann"}, "transform": [{"filter": "datum.p=='aH' && datum.k=='lb'"}], "mark": {"type": "text", "font": "Liberation Serif", "fontWeight": "bold", "fontSize": 16, "color": "black"}, "encoding": {"x": {"field": "x", "type": "quantitative"}, "y": {"field": "y", "type": "quantitative"}, "text": {"field": "txt"}}}
  ]},
  {"width": 558, "height": 138, "layer": [
   {"data": {"name": "stA"}, "mark": {"type": "rect"}, "encoding": {"x": {"field": "t0", "type": "quantitative", "scale": {"domain": [-100, 3800], "nice": false, "zero": false}, "axis": {"values": [0,250,500,750,1000,1250,1500,1750,2000,2250,2500,2750,3000,3250,3500,3750], "labels": false, "title": null, "tickSize": {"condition": {"test": "datum.value % 500 != 0", "value": 3}, "value": 6}, "zindex": 1}}, "x2": {"field": "t1"}, "fill": {"field": "s", "type": "nominal", "scale": {"domain": ["I","II","III","IV"], "range": ["#dbe8f3","#e2f0d6","#f9e3bd","#f9c6c4"]}, "legend": null}}},
   {"data": {"name": "bdA"}, "mark": {"type": "rule", "strokeDash": [6,4], "color": "#a6a6a6", "strokeWidth": 1.6}, "encoding": {"x": {"field": "t", "type": "quantitative"}}},
   {"data": {"name": "oA"}, "mark": {"type": "line", "strokeWidth": 3.5}, "encoding": {"x": {"field": "t", "type": "quantitative"}, "y": {"field": "v", "type": "quantitative", "scale": {"domain": [-86, 500], "nice": false, "zero": false}, "axis": {"title": "VOC (ppm)", "titleX": -44, "titleFontSize": 17, "labelFontSize": 16, "labelOverlap": false, "values": [0,75,150,225,300,375,450], "labelExpr": "indexof([75,225,375], datum.value) >= 0 ? '' : datum.label", "tickSize": {"condition": {"test": "indexof([75,225,375], datum.value) >= 0", "value": 3}, "value": 6}, "zindex": 1}}, "color": {"datum": "VOC", "type": "nominal", "scale": {"range": ["#f47a2c"]}, "legend": {"title": null, "symbolType": "M-1,0H3"}}}},
   {"data": {"name": "ann"}, "transform": [{"filter": "datum.p=='aO' && datum.k=='ar'"}], "mark": {"type": "rule", "color": "black", "strokeWidth": 2}, "encoding": {"x": {"field": "x", "type": "quantitative"}, "y": {"field": "y", "type": "quantitative"}, "x2": {"field": "x2"}, "y2": {"field": "y2"}}},
   {"data": {"name": "ann"}, "transform": [{"filter": "datum.p=='aO' && datum.k=='pt'"}], "mark": {"type": "circle", "color": "black", "size": 70, "opacity": 1}, "encoding": {"x": {"field": "x", "type": "quantitative"}, "y": {"field": "y", "type": "quantitative"}}},
   {"data": {"name": "ann"}, "transform": [{"filter": "datum.p=='aO' && datum.k=='lb'"}], "mark": {"type": "text", "font": "Liberation Serif", "fontWeight": "bold", "fontSize": 16, "color": "black"}, "encoding": {"x": {"field": "x", "type": "quantitative"}, "y": {"field": "y", "type": "quantitative"}, "text": {"field": "txt"}}}
  ]},
  {"width": 558, "height": 138, "layer": [
   {"data": {"name": "stA"}, "mark": {"type": "rect"}, "encoding": {"x": {"field": "t0", "type": "quantitative", "scale": {"domain": [-100, 3800], "nice": false, "zero": false}, "axis": {"values": [0,250,500,750,1000,1250,1500,1750,2000,2250,2500,2750,3000,3250,3500,3750], "title": "Time (s)", "titleFontSize": 21, "titlePadding": 11, "labelFontSize": 16, "labelPadding": -2, "labelExpr": "datum.value % 500 == 0 ? format(datum.value, 'd') : ''", "tickSize": {"condition": {"test": "datum.value % 500 != 0", "value": 3}, "value": 6}, "zindex": 1}}, "x2": {"field": "t1"}, "fill": {"field": "s", "type": "nominal", "scale": {"domain": ["I","II","III","IV"], "range": ["#dbe8f3","#e2f0d6","#f9e3bd","#f9c6c4"]}, "legend": null}}},
   {"data": {"name": "bdA"}, "mark": {"type": "rule", "strokeDash": [6,4], "color": "#a6a6a6", "strokeWidth": 1.6}, "encoding": {"x": {"field": "t", "type": "quantitative"}}},
   {"data": {"name": "cA"}, "mark": {"type": "line", "strokeWidth": 3.5}, "encoding": {"x": {"field": "t", "type": "quantitative"}, "y": {"field": "v", "type": "quantitative", "scale": {"domain": [-24, 194], "nice": false, "zero": false}, "axis": {"title": "CO (ppm)", "titleX": -44, "titleFontSize": 17, "labelFontSize": 16, "labelOverlap": false, "values": [0,27.5,55,82.5,110,137.5,165,192.5], "labelExpr": "indexof([27.5,82.5,137.5,192.5], datum.value) >= 0 ? '' : datum.label", "tickSize": {"condition": {"test": "indexof([27.5,82.5,137.5,192.5], datum.value) >= 0", "value": 3}, "value": 6}, "zindex": 1}}, "color": {"datum": "CO", "type": "nominal", "scale": {"range": ["#3cb44b"]}, "legend": {"title": null, "symbolType": "M-1,0H3"}}}},
   {"data": {"name": "ann"}, "transform": [{"filter": "datum.p=='aC' && datum.k=='ar'"}], "mark": {"type": "rule", "color": "black", "strokeWidth": 2}, "encoding": {"x": {"field": "x", "type": "quantitative"}, "y": {"field": "y", "type": "quantitative"}, "x2": {"field": "x2"}, "y2": {"field": "y2"}}},
   {"data": {"name": "ann"}, "transform": [{"filter": "datum.p=='aC' && datum.k=='pt'"}], "mark": {"type": "circle", "color": "black", "size": 70, "opacity": 1}, "encoding": {"x": {"field": "x", "type": "quantitative"}, "y": {"field": "y", "type": "quantitative"}}},
   {"data": {"name": "ann"}, "transform": [{"filter": "datum.p=='aC' && datum.k=='lb'"}], "mark": {"type": "text", "font": "Liberation Serif", "fontWeight": "bold", "fontSize": 16, "color": "black"}, "encoding": {"x": {"field": "x", "type": "quantitative"}, "y": {"field": "y", "type": "quantitative"}, "text": {"field": "txt"}}}
  ]}
 ], "spacing": 0, "bounds": "flush", "title": {"text": "(a)"}, "resolve": {"scale": {"x": "independent", "y": "independent", "color": "independent", "fill": "independent"}}},
 {"vconcat": [
  {"width": 571, "height": 140.5, "layer": [
   {"data": {"name": "stB"}, "mark": {"type": "rect"}, "encoding": {"x": {"field": "t0", "type": "quantitative", "scale": {"domain": [-50, 2100], "nice": false, "zero": false}, "axis": {"values": [0,150,300,450,600,750,900,1050,1200,1350,1500,1650,1800,1950,2100], "labels": false, "title": null, "tickSize": {"condition": {"test": "datum.value % 300 != 0", "value": 3}, "value": 6}, "zindex": 1}}, "x2": {"field": "t1"}, "fill": {"field": "s", "type": "nominal", "scale": {"domain": ["I","II","III","IV"], "range": ["#dbe8f3","#e2f0d6","#f9e3bd","#f9c6c4"]}, "legend": null}}},
   {"data": {"name": "bdB"}, "mark": {"type": "rule", "strokeDash": [6,4], "color": "#a6a6a6", "strokeWidth": 1.6}, "encoding": {"x": {"field": "t", "type": "quantitative"}}},
   {"data": {"name": "ann"}, "transform": [{"filter": "datum.p=='bV' && datum.k=='dd'"}], "mark": {"type": "rule", "color": "#ee1c25", "strokeWidth": 3, "strokeDash": [7,4]}, "encoding": {"x": {"field": "x", "type": "quantitative"}, "y": {"field": "y", "type": "quantitative"}, "y2": {"field": "y2"}}},
   {"data": {"name": "vB"}, "mark": {"type": "line", "strokeWidth": 3.5}, "encoding": {"x": {"field": "t", "type": "quantitative"}, "y": {"field": "v", "type": "quantitative", "scale": {"domain": [-5, 40], "nice": false, "zero": false}, "axis": {"title": "Voltage (V)", "titleX": -36, "titleFontSize": 16, "labelFontSize": 15, "labelOverlap": false, "values": [0,5.5,11,16.5,22,27.5,33,38.5], "labelExpr": "indexof([5.5,16.5,27.5,38.5], datum.value) >= 0 ? '' : datum.label", "tickSize": {"condition": {"test": "indexof([5.5,16.5,27.5,38.5], datum.value) >= 0", "value": 3}, "value": 6}, "zindex": 1}}, "detail": {"field": "g"}, "color": {"datum": "Voltage", "type": "nominal", "scale": {"range": ["#ee1c25"]}, "legend": {"title": null, "symbolType": "M-1,0H3", "labelFontSize": 18}}}},
   {"data": {"name": "ann"}, "transform": [{"filter": "datum.p=='bV' && datum.k=='ar'"}], "mark": {"type": "rule", "color": "black", "strokeWidth": 2}, "encoding": {"x": {"field": "x", "type": "quantitative"}, "y": {"field": "y", "type": "quantitative"}, "x2": {"field": "x2"}, "y2": {"field": "y2"}}},
   {"data": {"name": "ann"}, "transform": [{"filter": "datum.p=='bV' && datum.k=='pt'"}], "mark": {"type": "circle", "color": "black", "size": 70, "opacity": 1}, "encoding": {"x": {"field": "x", "type": "quantitative"}, "y": {"field": "y", "type": "quantitative"}}},
   {"data": {"name": "ann"}, "transform": [{"filter": "datum.p=='bV' && (datum.k=='lb' || datum.k=='st')"}], "mark": {"type": "text", "font": "Liberation Serif", "fontWeight": "bold", "fontSize": 14.5, "color": "black"}, "encoding": {"x": {"field": "x", "type": "quantitative"}, "y": {"field": "y", "type": "quantitative"}, "text": {"field": "txt"}}},
   {"data": {"name": "ann"}, "transform": [{"filter": "datum.p=='bV' && datum.k=='le'"}], "mark": {"type": "text", "font": "Liberation Serif", "fontWeight": "normal", "fontSize": 27, "color": "black"}, "encoding": {"x": {"field": "x", "type": "quantitative"}, "y": {"field": "y", "type": "quantitative"}, "text": {"field": "txt"}}}
  ]},
  {"width": 571, "height": 140.5, "layer": [
   {"data": {"name": "stB"}, "mark": {"type": "rect"}, "encoding": {"x": {"field": "t0", "type": "quantitative", "scale": {"domain": [-50, 2100], "nice": false, "zero": false}, "axis": {"values": [0,150,300,450,600,750,900,1050,1200,1350,1500,1650,1800,1950,2100], "labels": false, "title": null, "tickSize": {"condition": {"test": "datum.value % 300 != 0", "value": 3}, "value": 6}, "zindex": 1}}, "x2": {"field": "t1"}, "fill": {"field": "s", "type": "nominal", "scale": {"domain": ["I","II","III","IV"], "range": ["#dbe8f3","#e2f0d6","#f9e3bd","#f9c6c4"]}, "legend": null}}},
   {"data": {"name": "bdB"}, "mark": {"type": "rule", "strokeDash": [6,4], "color": "#a6a6a6", "strokeWidth": 1.6}, "encoding": {"x": {"field": "t", "type": "quantitative"}}},
   {"data": {"name": "tB"}, "transform": [{"fold": ["Tc₃","Tc₂","Tc₁"], "as": ["s","v"]}], "mark": {"type": "line", "strokeWidth": 5}, "encoding": {"x": {"field": "t", "type": "quantitative"}, "y": {"field": "v", "type": "quantitative", "scale": {"domain": [0, 180], "nice": false, "zero": false}, "axis": {"title": "Temperature (°C)", "titleX": -36, "titleFontSize": 16, "labelFontSize": 15, "labelOverlap": false, "values": [0,22.5,45,67.5,90,112.5,135,157.5,180], "labelExpr": "indexof([22.5,67.5,112.5,157.5], datum.value) >= 0 ? '' : datum.label", "tickSize": {"condition": {"test": "indexof([22.5,67.5,112.5,157.5], datum.value) >= 0", "value": 3}, "value": 6}, "zindex": 1}}, "color": {"field": "s", "type": "nominal", "scale": {"domain": ["Tc₃","Tc₂","Tc₁"], "range": ["#55b14a","#3b78c3","#c596e0"]}, "legend": {"title": null, "symbolType": "M-1,0H3", "rowPadding": 6}}}},
   {"data": {"name": "tB"}, "transform": [{"fold": ["Tc₃"], "as": ["s2","v"]}], "mark": {"type": "point", "shape": "circle", "filled": true, "fill": "#ff33aa", "size": 55, "opacity": 1, "stroke": "white", "strokeWidth": 0.6}, "encoding": {"x": {"field": "t", "type": "quantitative"}, "y": {"field": "v", "type": "quantitative"}}},
   {"data": {"name": "tB"}, "transform": [{"fold": ["Tc₂"], "as": ["s2","v"]}], "mark": {"type": "point", "shape": "diamond", "filled": true, "fill": "#66ff33", "size": 55, "opacity": 1, "stroke": "white", "strokeWidth": 0.6}, "encoding": {"x": {"field": "t", "type": "quantitative"}, "y": {"field": "v", "type": "quantitative"}}},
   {"data": {"name": "tB"}, "transform": [{"fold": ["Tc₁"], "as": ["s2","v"]}], "mark": {"type": "point", "shape": "triangle-right", "filled": true, "fill": "#ff5c50", "size": 55, "opacity": 1, "stroke": "white", "strokeWidth": 0.6}, "encoding": {"x": {"field": "t", "type": "quantitative"}, "y": {"field": "v", "type": "quantitative"}}},
   {"data": {"name": "ann"}, "transform": [{"filter": "datum.p=='bT' && datum.k=='ar'"}], "mark": {"type": "rule", "color": "black", "strokeWidth": 2}, "encoding": {"x": {"field": "x", "type": "quantitative"}, "y": {"field": "y", "type": "quantitative"}, "x2": {"field": "x2"}, "y2": {"field": "y2"}}},
   {"data": {"name": "ann"}, "transform": [{"filter": "datum.p=='bT' && datum.k=='pt'"}], "mark": {"type": "circle", "color": "black", "size": 70, "opacity": 1}, "encoding": {"x": {"field": "x", "type": "quantitative"}, "y": {"field": "y", "type": "quantitative"}}},
   {"data": {"name": "ann"}, "transform": [{"filter": "datum.p=='bT' && datum.k=='lb'"}], "mark": {"type": "text", "font": "Liberation Serif", "fontWeight": "bold", "fontSize": 15, "color": "black"}, "encoding": {"x": {"field": "x", "type": "quantitative"}, "y": {"field": "y", "type": "quantitative"}, "text": {"field": "txt"}}}
  ]},
  {"width": 571, "height": 140.5, "layer": [
   {"data": {"name": "stB"}, "mark": {"type": "rect"}, "encoding": {"x": {"field": "t0", "type": "quantitative", "scale": {"domain": [-50, 2100], "nice": false, "zero": false}, "axis": {"values": [0,150,300,450,600,750,900,1050,1200,1350,1500,1650,1800,1950,2100], "labels": false, "title": null, "tickSize": {"condition": {"test": "datum.value % 300 != 0", "value": 3}, "value": 6}, "zindex": 1}}, "x2": {"field": "t1"}, "fill": {"field": "s", "type": "nominal", "scale": {"domain": ["I","II","III","IV"], "range": ["#dbe8f3","#e2f0d6","#f9e3bd","#f9c6c4"]}, "legend": null}}},
   {"data": {"name": "bdB"}, "mark": {"type": "rule", "strokeDash": [6,4], "color": "#a6a6a6", "strokeWidth": 1.6}, "encoding": {"x": {"field": "t", "type": "quantitative"}}},
   {"data": {"name": "hB"}, "mark": {"type": "line", "strokeWidth": 3.5}, "encoding": {"x": {"field": "t", "type": "quantitative"}, "y": {"field": "v", "type": "quantitative", "scale": {"domain": [-60, 480], "nice": false, "zero": false}, "axis": {"title": "H₂ (ppm)", "titleX": -36, "titleFontSize": 16, "labelFontSize": 15, "labelOverlap": false, "values": [0,70,140,210,280,350,420], "labelExpr": "indexof([70,210,350], datum.value) >= 0 ? '' : datum.label", "tickSize": {"condition": {"test": "indexof([70,210,350], datum.value) >= 0", "value": 3}, "value": 6}, "zindex": 1}}, "color": {"datum": "H₂", "type": "nominal", "scale": {"range": ["#1ba9e1"]}, "legend": {"title": null, "symbolType": "M-1,0H3"}}}},
   {"data": {"name": "ann"}, "transform": [{"filter": "datum.p=='bH' && datum.k=='ar'"}], "mark": {"type": "rule", "color": "black", "strokeWidth": 2}, "encoding": {"x": {"field": "x", "type": "quantitative"}, "y": {"field": "y", "type": "quantitative"}, "x2": {"field": "x2"}, "y2": {"field": "y2"}}},
   {"data": {"name": "ann"}, "transform": [{"filter": "datum.p=='bH' && datum.k=='pt'"}], "mark": {"type": "circle", "color": "black", "size": 70, "opacity": 1}, "encoding": {"x": {"field": "x", "type": "quantitative"}, "y": {"field": "y", "type": "quantitative"}}},
   {"data": {"name": "ann"}, "transform": [{"filter": "datum.p=='bH' && datum.k=='lb'"}], "mark": {"type": "text", "font": "Liberation Serif", "fontWeight": "bold", "fontSize": 15, "color": "black"}, "encoding": {"x": {"field": "x", "type": "quantitative"}, "y": {"field": "y", "type": "quantitative"}, "text": {"field": "txt"}}}
  ]},
  {"width": 571, "height": 140.5, "layer": [
   {"data": {"name": "stB"}, "mark": {"type": "rect"}, "encoding": {"x": {"field": "t0", "type": "quantitative", "scale": {"domain": [-50, 2100], "nice": false, "zero": false}, "axis": {"values": [0,150,300,450,600,750,900,1050,1200,1350,1500,1650,1800,1950,2100], "labels": false, "title": null, "tickSize": {"condition": {"test": "datum.value % 300 != 0", "value": 3}, "value": 6}, "zindex": 1}}, "x2": {"field": "t1"}, "fill": {"field": "s", "type": "nominal", "scale": {"domain": ["I","II","III","IV"], "range": ["#dbe8f3","#e2f0d6","#f9e3bd","#f9c6c4"]}, "legend": null}}},
   {"data": {"name": "bdB"}, "mark": {"type": "rule", "strokeDash": [6,4], "color": "#a6a6a6", "strokeWidth": 1.6}, "encoding": {"x": {"field": "t", "type": "quantitative"}}},
   {"data": {"name": "oB"}, "mark": {"type": "line", "strokeWidth": 3.5}, "encoding": {"x": {"field": "t", "type": "quantitative"}, "y": {"field": "v", "type": "quantitative", "scale": {"domain": [-57, 440], "nice": false, "zero": false}, "axis": {"title": "VOC (ppm)", "titleX": -36, "titleFontSize": 16, "labelFontSize": 15, "labelOverlap": false, "values": [0,60,120,180,240,300,360,420], "labelExpr": "indexof([60,180,300,420], datum.value) >= 0 ? '' : datum.label", "tickSize": {"condition": {"test": "indexof([60,180,300,420], datum.value) >= 0", "value": 3}, "value": 6}, "zindex": 1}}, "color": {"datum": "VOC", "type": "nominal", "scale": {"range": ["#f47a2c"]}, "legend": {"title": null, "symbolType": "M-1,0H3"}}}},
   {"data": {"name": "ann"}, "transform": [{"filter": "datum.p=='bO' && datum.k=='ar'"}], "mark": {"type": "rule", "color": "black", "strokeWidth": 2}, "encoding": {"x": {"field": "x", "type": "quantitative"}, "y": {"field": "y", "type": "quantitative"}, "x2": {"field": "x2"}, "y2": {"field": "y2"}}},
   {"data": {"name": "ann"}, "transform": [{"filter": "datum.p=='bO' && datum.k=='pt'"}], "mark": {"type": "circle", "color": "black", "size": 70, "opacity": 1}, "encoding": {"x": {"field": "x", "type": "quantitative"}, "y": {"field": "y", "type": "quantitative"}}},
   {"data": {"name": "ann"}, "transform": [{"filter": "datum.p=='bO' && datum.k=='lb'"}], "mark": {"type": "text", "font": "Liberation Serif", "fontWeight": "bold", "fontSize": 15, "color": "black"}, "encoding": {"x": {"field": "x", "type": "quantitative"}, "y": {"field": "y", "type": "quantitative"}, "text": {"field": "txt"}}}
  ]},
  {"width": 571, "height": 140.5, "layer": [
   {"data": {"name": "stB"}, "mark": {"type": "rect"}, "encoding": {"x": {"field": "t0", "type": "quantitative", "scale": {"domain": [-50, 2100], "nice": false, "zero": false}, "axis": {"values": [0,150,300,450,600,750,900,1050,1200,1350,1500,1650,1800,1950,2100], "title": "Time (s)", "titleFontSize": 16, "titlePadding": 9, "labelFontSize": 15, "labelPadding": -3, "labelExpr": "datum.value % 300 == 0 ? format(datum.value, 'd') : ''", "tickSize": {"condition": {"test": "datum.value % 300 != 0", "value": 3}, "value": 6}, "zindex": 1}}, "x2": {"field": "t1"}, "fill": {"field": "s", "type": "nominal", "scale": {"domain": ["I","II","III","IV"], "range": ["#dbe8f3","#e2f0d6","#f9e3bd","#f9c6c4"]}, "legend": null}}},
   {"data": {"name": "bdB"}, "mark": {"type": "rule", "strokeDash": [6,4], "color": "#a6a6a6", "strokeWidth": 1.6}, "encoding": {"x": {"field": "t", "type": "quantitative"}}},
   {"data": {"name": "cB"}, "mark": {"type": "line", "strokeWidth": 3.5}, "encoding": {"x": {"field": "t", "type": "quantitative"}, "y": {"field": "v", "type": "quantitative", "scale": {"domain": [-14, 108], "nice": false, "zero": false}, "axis": {"title": "CO (ppm)", "titleX": -36, "titleFontSize": 16, "labelFontSize": 15, "labelOverlap": false, "values": [0,15,30,45,60,75,90,105], "labelExpr": "indexof([15,45,75,105], datum.value) >= 0 ? '' : datum.label", "tickSize": {"condition": {"test": "indexof([15,45,75,105], datum.value) >= 0", "value": 3}, "value": 6}, "zindex": 1}}, "color": {"datum": "CO", "type": "nominal", "scale": {"range": ["#3cb44b"]}, "legend": {"title": null, "symbolType": "M-1,0H3"}}}},
   {"data": {"name": "ann"}, "transform": [{"filter": "datum.p=='bC' && datum.k=='ar'"}], "mark": {"type": "rule", "color": "black", "strokeWidth": 2}, "encoding": {"x": {"field": "x", "type": "quantitative"}, "y": {"field": "y", "type": "quantitative"}, "x2": {"field": "x2"}, "y2": {"field": "y2"}}},
   {"data": {"name": "ann"}, "transform": [{"filter": "datum.p=='bC' && datum.k=='pt'"}], "mark": {"type": "circle", "color": "black", "size": 70, "opacity": 1}, "encoding": {"x": {"field": "x", "type": "quantitative"}, "y": {"field": "y", "type": "quantitative"}}},
   {"data": {"name": "ann"}, "transform": [{"filter": "datum.p=='bC' && datum.k=='lb'"}], "mark": {"type": "text", "font": "Liberation Serif", "fontWeight": "bold", "fontSize": 15, "color": "black"}, "encoding": {"x": {"field": "x", "type": "quantitative"}, "y": {"field": "y", "type": "quantitative"}, "text": {"field": "txt"}}}
  ]}
 ], "spacing": 0, "bounds": "flush", "title": {"text": "(b)"}, "resolve": {"scale": {"x": "independent", "y": "independent", "color": "independent", "fill": "independent"}}}
], "spacing": 66, "resolve": {"scale": {"x": "independent", "y": "independent", "color": "independent", "fill": "independent"}}},
{"hconcat": [
 {"width": 288, "height": 1, "data": {"values": []}, "mark": "point", "view": {"stroke": null}},
 {"vconcat": [
  {"width": 568, "height": 138.8, "layer": [
   {"data": {"name": "stC"}, "mark": {"type": "rect"}, "encoding": {"x": {"field": "t0", "type": "quantitative", "scale": {"domain": [-50, 1680], "nice": false, "zero": false}, "axis": {"values": [0,100,200,300,400,500,600,700,800,900,1000,1100,1200,1300,1400,1500,1600], "labels": false, "title": null, "tickSize": {"condition": {"test": "datum.value % 200 != 0", "value": 3}, "value": 6}, "zindex": 1}}, "x2": {"field": "t1"}, "fill": {"field": "s", "type": "nominal", "scale": {"domain": ["I","II","III","IV"], "range": ["#dbe8f3","#e2f0d6","#f9e3bd","#f9c6c4"]}, "legend": null}}},
   {"data": {"name": "bdC"}, "mark": {"type": "rule", "strokeDash": [6,4], "color": "#a6a6a6", "strokeWidth": 1.6}, "encoding": {"x": {"field": "t", "type": "quantitative"}}},
   {"data": {"name": "ann"}, "transform": [{"filter": "datum.p=='cV' && datum.k=='dd'"}], "mark": {"type": "rule", "color": "#ee1c25", "strokeWidth": 3, "strokeDash": [7,4]}, "encoding": {"x": {"field": "x", "type": "quantitative"}, "y": {"field": "y", "type": "quantitative"}, "y2": {"field": "y2"}}},
   {"data": {"name": "vC"}, "mark": {"type": "line", "strokeWidth": 3.5}, "encoding": {"x": {"field": "t", "type": "quantitative"}, "y": {"field": "v", "type": "quantitative", "scale": {"domain": [-3, 23.1], "nice": false, "zero": false}, "axis": {"title": "Voltage (V)", "titleX": -37, "titleFontSize": 16, "labelFontSize": 15, "labelOverlap": false, "values": [0,3.25,6.5,9.75,13,16.25,19.5,22.75], "labelExpr": "indexof([3.25,9.75,16.25,22.75], datum.value) >= 0 ? '' : format(datum.value, '.1f')", "tickSize": {"condition": {"test": "indexof([3.25,9.75,16.25,22.75], datum.value) >= 0", "value": 3}, "value": 6}, "zindex": 1}}, "detail": {"field": "g"}, "color": {"datum": "Voltage", "type": "nominal", "scale": {"range": ["#ee1c25"]}, "legend": {"title": null, "symbolType": "M-1,0H3"}}}},
   {"data": {"name": "ann"}, "transform": [{"filter": "datum.p=='cV' && datum.k=='ar'"}], "mark": {"type": "rule", "color": "black", "strokeWidth": 2}, "encoding": {"x": {"field": "x", "type": "quantitative"}, "y": {"field": "y", "type": "quantitative"}, "x2": {"field": "x2"}, "y2": {"field": "y2"}}},
   {"data": {"name": "ann"}, "transform": [{"filter": "datum.p=='cV' && datum.k=='pt'"}], "mark": {"type": "circle", "color": "black", "size": 70, "opacity": 1}, "encoding": {"x": {"field": "x", "type": "quantitative"}, "y": {"field": "y", "type": "quantitative"}}},
   {"data": {"name": "ann"}, "transform": [{"filter": "datum.p=='cV' && datum.k=='lb'"}], "mark": {"type": "text", "font": "Liberation Serif", "fontWeight": "bold", "fontSize": 13, "color": "black"}, "encoding": {"x": {"field": "x", "type": "quantitative"}, "y": {"field": "y", "type": "quantitative"}, "text": {"field": "txt"}}},
   {"data": {"name": "ann"}, "transform": [{"filter": "datum.p=='cV' && datum.k=='st'"}], "mark": {"type": "text", "font": "Liberation Serif", "fontWeight": "bold", "fontSize": 15, "color": "black"}, "encoding": {"x": {"field": "x", "type": "quantitative"}, "y": {"field": "y", "type": "quantitative"}, "text": {"field": "txt"}}},
   {"data": {"name": "ann"}, "transform": [{"filter": "datum.p=='cV' && datum.k=='le'"}], "mark": {"type": "text", "font": "Liberation Serif", "fontWeight": "normal", "fontSize": 26, "color": "black"}, "encoding": {"x": {"field": "x", "type": "quantitative"}, "y": {"field": "y", "type": "quantitative"}, "text": {"field": "txt"}}}
  ]},
  {"width": 568, "height": 138.8, "layer": [
   {"data": {"name": "stC"}, "mark": {"type": "rect"}, "encoding": {"x": {"field": "t0", "type": "quantitative", "scale": {"domain": [-50, 1680], "nice": false, "zero": false}, "axis": {"values": [0,100,200,300,400,500,600,700,800,900,1000,1100,1200,1300,1400,1500,1600], "labels": false, "title": null, "tickSize": {"condition": {"test": "datum.value % 200 != 0", "value": 3}, "value": 6}, "zindex": 1}}, "x2": {"field": "t1"}, "fill": {"field": "s", "type": "nominal", "scale": {"domain": ["I","II","III","IV"], "range": ["#dbe8f3","#e2f0d6","#f9e3bd","#f9c6c4"]}, "legend": null}}},
   {"data": {"name": "bdC"}, "mark": {"type": "rule", "strokeDash": [6,4], "color": "#a6a6a6", "strokeWidth": 1.6}, "encoding": {"x": {"field": "t", "type": "quantitative"}}},
   {"data": {"name": "tC"}, "transform": [{"fold": ["Tc₃","Tc₂","Tc₁"], "as": ["s","v"]}], "mark": {"type": "line", "strokeWidth": 5}, "encoding": {"x": {"field": "t", "type": "quantitative"}, "y": {"field": "v", "type": "quantitative", "scale": {"domain": [0, 160], "nice": false, "zero": false}, "axis": {"title": "Temperature (°C)", "titleX": -37, "titleFontSize": 16, "labelFontSize": 15, "labelOverlap": false, "values": [0,20,40,60,80,100,120,140,160], "labelExpr": "indexof([20,60,100,140], datum.value) >= 0 ? '' : datum.label", "tickSize": {"condition": {"test": "indexof([20,60,100,140], datum.value) >= 0", "value": 3}, "value": 6}, "zindex": 1}}, "color": {"field": "s", "type": "nominal", "scale": {"domain": ["Tc₃","Tc₂","Tc₁"], "range": ["#2e7d32","#3b78c3","#c596e0"]}, "legend": {"title": null, "symbolType": "M-1,0H3", "rowPadding": 6}}}},
   {"data": {"name": "tC"}, "transform": [{"fold": ["Tc₃"], "as": ["s2","v"]}], "mark": {"type": "point", "shape": "circle", "filled": true, "fill": "#ff3399", "size": 50, "opacity": 1, "stroke": "white", "strokeWidth": 0.6}, "encoding": {"x": {"field": "t", "type": "quantitative"}, "y": {"field": "v", "type": "quantitative"}}},
   {"data": {"name": "tC"}, "transform": [{"fold": ["Tc₂"], "as": ["s2","v"]}], "mark": {"type": "point", "shape": "triangle-right", "filled": true, "fill": "#66ff33", "size": 50, "opacity": 1, "stroke": "white", "strokeWidth": 0.6}, "encoding": {"x": {"field": "t", "type": "quantitative"}, "y": {"field": "v", "type": "quantitative"}}},
   {"data": {"name": "tC"}, "transform": [{"fold": ["Tc₁"], "as": ["s2","v"]}], "mark": {"type": "point", "shape": "triangle-right", "filled": true, "fill": "#ff5c50", "size": 50, "opacity": 1, "stroke": "white", "strokeWidth": 0.6}, "encoding": {"x": {"field": "t", "type": "quantitative"}, "y": {"field": "v", "type": "quantitative"}}},
   {"data": {"name": "ann"}, "transform": [{"filter": "datum.p=='cT' && datum.k=='ar'"}], "mark": {"type": "rule", "color": "black", "strokeWidth": 2}, "encoding": {"x": {"field": "x", "type": "quantitative"}, "y": {"field": "y", "type": "quantitative"}, "x2": {"field": "x2"}, "y2": {"field": "y2"}}},
   {"data": {"name": "ann"}, "transform": [{"filter": "datum.p=='cT' && datum.k=='pt'"}], "mark": {"type": "circle", "color": "black", "size": 70, "opacity": 1}, "encoding": {"x": {"field": "x", "type": "quantitative"}, "y": {"field": "y", "type": "quantitative"}}},
   {"data": {"name": "ann"}, "transform": [{"filter": "datum.p=='cT' && datum.k=='lb'"}], "mark": {"type": "text", "font": "Liberation Sans", "fontWeight": "bold", "fontSize": 15, "color": "black"}, "encoding": {"x": {"field": "x", "type": "quantitative"}, "y": {"field": "y", "type": "quantitative"}, "text": {"field": "txt"}}}
  ]},
  {"width": 568, "height": 138.8, "layer": [
   {"data": {"name": "stC"}, "mark": {"type": "rect"}, "encoding": {"x": {"field": "t0", "type": "quantitative", "scale": {"domain": [-50, 1680], "nice": false, "zero": false}, "axis": {"values": [0,100,200,300,400,500,600,700,800,900,1000,1100,1200,1300,1400,1500,1600], "labels": false, "title": null, "tickSize": {"condition": {"test": "datum.value % 200 != 0", "value": 3}, "value": 6}, "zindex": 1}}, "x2": {"field": "t1"}, "fill": {"field": "s", "type": "nominal", "scale": {"domain": ["I","II","III","IV"], "range": ["#dbe8f3","#e2f0d6","#f9e3bd","#f9c6c4"]}, "legend": null}}},
   {"data": {"name": "bdC"}, "mark": {"type": "rule", "strokeDash": [6,4], "color": "#a6a6a6", "strokeWidth": 1.6}, "encoding": {"x": {"field": "t", "type": "quantitative"}}},
   {"data": {"name": "hC"}, "mark": {"type": "line", "strokeWidth": 3.5}, "encoding": {"x": {"field": "t", "type": "quantitative"}, "y": {"field": "v", "type": "quantitative", "scale": {"domain": [-97, 800], "nice": false, "zero": false}, "axis": {"title": "H₂ (ppm)", "titleX": -37, "titleFontSize": 16, "labelFontSize": 15, "labelOverlap": false, "values": [0,115,230,345,460,575,690], "labelExpr": "indexof([115,345,575], datum.value) >= 0 ? '' : datum.label", "tickSize": {"condition": {"test": "indexof([115,345,575], datum.value) >= 0", "value": 3}, "value": 6}, "zindex": 1}}, "color": {"datum": "H₂", "type": "nominal", "scale": {"range": ["#1ba9e1"]}, "legend": {"title": null, "symbolType": "M-1,0H3"}}}},
   {"data": {"name": "ann"}, "transform": [{"filter": "datum.p=='cH' && datum.k=='ar'"}], "mark": {"type": "rule", "color": "black", "strokeWidth": 2}, "encoding": {"x": {"field": "x", "type": "quantitative"}, "y": {"field": "y", "type": "quantitative"}, "x2": {"field": "x2"}, "y2": {"field": "y2"}}},
   {"data": {"name": "ann"}, "transform": [{"filter": "datum.p=='cH' && datum.k=='pt'"}], "mark": {"type": "circle", "color": "black", "size": 70, "opacity": 1}, "encoding": {"x": {"field": "x", "type": "quantitative"}, "y": {"field": "y", "type": "quantitative"}}},
   {"data": {"name": "ann"}, "transform": [{"filter": "datum.p=='cH' && datum.k=='lb'"}], "mark": {"type": "text", "font": "Liberation Sans", "fontWeight": "bold", "fontSize": 15, "color": "black"}, "encoding": {"x": {"field": "x", "type": "quantitative"}, "y": {"field": "y", "type": "quantitative"}, "text": {"field": "txt"}}}
  ]},
  {"width": 568, "height": 138.8, "layer": [
   {"data": {"name": "stC"}, "mark": {"type": "rect"}, "encoding": {"x": {"field": "t0", "type": "quantitative", "scale": {"domain": [-50, 1680], "nice": false, "zero": false}, "axis": {"values": [0,100,200,300,400,500,600,700,800,900,1000,1100,1200,1300,1400,1500,1600], "labels": false, "title": null, "tickSize": {"condition": {"test": "datum.value % 200 != 0", "value": 3}, "value": 6}, "zindex": 1}}, "x2": {"field": "t1"}, "fill": {"field": "s", "type": "nominal", "scale": {"domain": ["I","II","III","IV"], "range": ["#dbe8f3","#e2f0d6","#f9e3bd","#f9c6c4"]}, "legend": null}}},
   {"data": {"name": "bdC"}, "mark": {"type": "rule", "strokeDash": [6,4], "color": "#a6a6a6", "strokeWidth": 1.6}, "encoding": {"x": {"field": "t", "type": "quantitative"}}},
   {"data": {"name": "oC"}, "mark": {"type": "line", "strokeWidth": 3.5}, "encoding": {"x": {"field": "t", "type": "quantitative"}, "y": {"field": "v", "type": "quantitative", "scale": {"domain": [-57, 475], "nice": false, "zero": false}, "axis": {"title": "VOC (ppm)", "titleX": -37, "titleFontSize": 16, "labelFontSize": 15, "labelOverlap": false, "values": [0,70,140,210,280,350,420], "labelExpr": "indexof([70,210,350], datum.value) >= 0 ? '' : datum.label", "tickSize": {"condition": {"test": "indexof([70,210,350], datum.value) >= 0", "value": 3}, "value": 6}, "zindex": 1}}, "color": {"datum": "VOC", "type": "nominal", "scale": {"range": ["#f47a2c"]}, "legend": {"title": null, "symbolType": "M-1,0H3"}}}},
   {"data": {"name": "ann"}, "transform": [{"filter": "datum.p=='cO' && datum.k=='ar'"}], "mark": {"type": "rule", "color": "black", "strokeWidth": 2}, "encoding": {"x": {"field": "x", "type": "quantitative"}, "y": {"field": "y", "type": "quantitative"}, "x2": {"field": "x2"}, "y2": {"field": "y2"}}},
   {"data": {"name": "ann"}, "transform": [{"filter": "datum.p=='cO' && datum.k=='pt'"}], "mark": {"type": "circle", "color": "black", "size": 70, "opacity": 1}, "encoding": {"x": {"field": "x", "type": "quantitative"}, "y": {"field": "y", "type": "quantitative"}}},
   {"data": {"name": "ann"}, "transform": [{"filter": "datum.p=='cO' && datum.k=='lb'"}], "mark": {"type": "text", "font": "Liberation Sans", "fontWeight": "bold", "fontSize": 15, "color": "black"}, "encoding": {"x": {"field": "x", "type": "quantitative"}, "y": {"field": "y", "type": "quantitative"}, "text": {"field": "txt"}}}
  ]},
  {"width": 568, "height": 138.8, "layer": [
   {"data": {"name": "stC"}, "mark": {"type": "rect"}, "encoding": {"x": {"field": "t0", "type": "quantitative", "scale": {"domain": [-50, 1680], "nice": false, "zero": false}, "axis": {"values": [0,100,200,300,400,500,600,700,800,900,1000,1100,1200,1300,1400,1500,1600], "title": "Time (s)", "titleFontSize": 17, "titlePadding": 8, "labelFontSize": 15, "labelPadding": 0, "labelExpr": "datum.value % 200 == 0 ? format(datum.value, 'd') : ''", "tickSize": {"condition": {"test": "datum.value % 200 != 0", "value": 3}, "value": 6}, "zindex": 1}}, "x2": {"field": "t1"}, "fill": {"field": "s", "type": "nominal", "scale": {"domain": ["I","II","III","IV"], "range": ["#dbe8f3","#e2f0d6","#f9e3bd","#f9c6c4"]}, "legend": null}}},
   {"data": {"name": "bdC"}, "mark": {"type": "rule", "strokeDash": [6,4], "color": "#a6a6a6", "strokeWidth": 1.6}, "encoding": {"x": {"field": "t", "type": "quantitative"}}},
   {"data": {"name": "cC"}, "mark": {"type": "line", "strokeWidth": 3.5}, "encoding": {"x": {"field": "t", "type": "quantitative"}, "y": {"field": "v", "type": "quantitative", "scale": {"domain": [-21, 176], "nice": false, "zero": false}, "axis": {"title": "CO (ppm)", "titleX": -37, "titleFontSize": 16, "labelFontSize": 15, "labelOverlap": false, "values": [0,25,50,75,100,125,150,175], "labelExpr": "indexof([25,75,125,175], datum.value) >= 0 ? '' : datum.label", "tickSize": {"condition": {"test": "indexof([25,75,125,175], datum.value) >= 0", "value": 3}, "value": 6}, "zindex": 1}}, "color": {"datum": "CO", "type": "nominal", "scale": {"range": ["#3cb44b"]}, "legend": {"title": null, "symbolType": "M-1,0H3"}}}},
   {"data": {"name": "ann"}, "transform": [{"filter": "datum.p=='cC' && datum.k=='ar'"}], "mark": {"type": "rule", "color": "black", "strokeWidth": 2}, "encoding": {"x": {"field": "x", "type": "quantitative"}, "y": {"field": "y", "type": "quantitative"}, "x2": {"field": "x2"}, "y2": {"field": "y2"}}},
   {"data": {"name": "ann"}, "transform": [{"filter": "datum.p=='cC' && datum.k=='pt'"}], "mark": {"type": "circle", "color": "black", "size": 70, "opacity": 1}, "encoding": {"x": {"field": "x", "type": "quantitative"}, "y": {"field": "y", "type": "quantitative"}}},
   {"data": {"name": "ann"}, "transform": [{"filter": "datum.p=='cC' && datum.k=='lb'"}], "mark": {"type": "text", "font": "Liberation Sans", "fontWeight": "bold", "fontSize": 15, "color": "black"}, "encoding": {"x": {"field": "x", "type": "quantitative"}, "y": {"field": "y", "type": "quantitative"}, "text": {"field": "txt"}}}
  ]}
 ], "spacing": 0, "bounds": "flush", "title": {"text": "(c)"}, "resolve": {"scale": {"x": "independent", "y": "independent", "color": "independent", "fill": "independent"}}}
], "spacing": 0, "resolve": {"scale": {"x": "independent", "y": "independent", "color": "independent", "fill": "independent"}}}
]
}
